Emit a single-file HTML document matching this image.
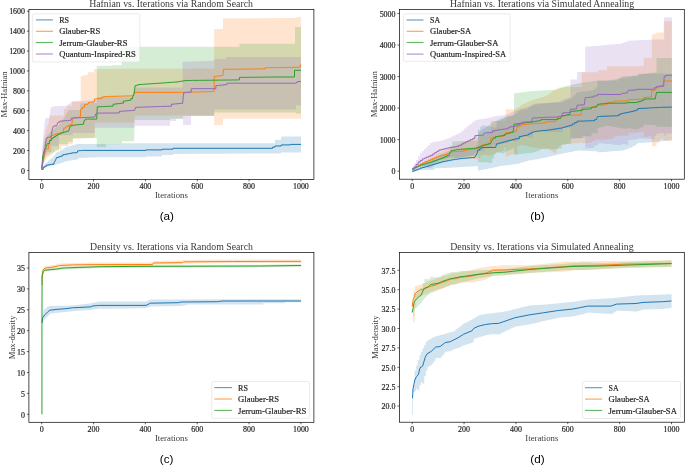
<!DOCTYPE html>
<html><head><meta charset="utf-8"><style>
html,body{margin:0;padding:0;background:#fff;}
body{width:685px;height:466px;overflow:hidden;}
svg{display:block;}
text{fill:#3a3a3a;}
svg text{filter:grayscale(1);}
</style></head><body>
<svg width="685" height="466" viewBox="0 0 685 466">
<polygon points="41.7,169 43,166.5 46,163 50,159.5 54.5,155.5 56.6,152.5 62.8,149.5 65.9,147 72,145.4 77.2,144 122,144 122,143.3 275,143.2 275,139.8 281.3,139.8 281.3,136.5 301,136.5 301,152.4 281,152.4 281,153.5 173,153.9 173,155 162,155 162,156.5 146,156.5 146,157.2 100,157.2 79.2,158 77.2,159.6 66.9,161.1 60.7,163.2 53.5,165.2 46.3,167 41.7,170" fill="#1f77b4" fill-opacity="0.2"/>
<polygon points="41.7,170 42.5,150 44,138 46,130 48.9,122 49.4,115.5 63.8,115.5 63.8,108.8 66.9,108.8 66.9,105.7 72,105.7 72,101.6 80.7,101.6 80.7,75.9 83.4,75.9 83.4,74.9 87.7,74.9 87.7,72.2 94.1,72.2 94.1,69 214.2,68.5 214.2,29 223,29 223,18.6 295,18 298,17 301,17 301,118.7 223,118.7 223,124.9 214.2,124.9 214.2,115.4 134.6,115.4 134.6,122.6 94.7,122.6 94.7,137.5 72.8,138.8 72.8,144.2 68,144.2 68,146 61.4,146 61.4,149.6 54.8,149.6 54.8,152 51.2,155 47,158 44,163 41.7,170" fill="#ff7f0e" fill-opacity="0.2"/>
<polygon points="41.7,170 42.5,152 44,143 46,137 49.4,133 55,128 60,124 64,118 66.9,113 69,110 80.3,110 80.3,103.5 96.8,103 96.8,65.7 111.3,65.7 111.3,65.2 121.5,65.2 121.5,46.8 239.4,46.8 239.4,43.7 295,43.7 295,27 301,27 301,113.6 296,113.6 296,112.6 214.2,112.6 214.2,116 183,116 183,118.7 170,118.7 170,120 134.3,120 134.3,141.2 122,141.2 122,144.3 106,144.3 106,147.3 96.8,147.3 96.8,138 80,138.2 72.8,138.2 72.8,141.8 68,141.8 68,144.2 59,144.2 59,150 51.2,153 45.8,156 44,162 41.7,170" fill="#2ca02c" fill-opacity="0.2"/>
<polygon points="41.7,170 42.5,145 44,128 45.3,118 49.4,118 50.9,107.3 54,106.2 66.9,105.7 72,101.6 96.8,100 96.8,97 134.4,97 134.4,87.5 182.6,87.5 182.6,62.1 191,61.5 214.2,60.7 214.2,59 226,59 226,57 301,57 301,105.4 296,105.4 296,109.5 214.2,109.5 214.2,115.7 191,115.7 191,124.9 183,124.9 183,118.7 176,118.7 176,121 170,121 170,125.8 134.6,125.8 134.6,127.7 94.7,127.7 94.7,133 72.8,133 72.8,135.2 59,135.2 59,146 51.2,146 51.2,152 45.8,152 44,160 41.7,170" fill="#9467bd" fill-opacity="0.2"/>
<polyline points="41.7,169.4 43.2,169.4 43.2,167.3 44.75,167.3 44.75,166.25 46.3,166.25 46.3,165.2 48,165.2 48,164.87 49.7,164.87 49.7,164.53 51.4,164.53 51.4,164.2 54,164.2 54,162.7 55.6,160.1 56.6,157.5 58.65,157.5 58.65,156.75 60.7,156.75 60.7,156 62.8,156 62.8,154.7 64.85,154.7 64.85,154.3 66.9,154.3 66.9,153.9 68.6,153.9 68.6,153.57 70.3,153.57 70.3,153.23 72,153.23 72,152.9 77.2,152.7 77.7,150.8 79.23,150.8 79.23,150.67 80.77,150.67 80.77,150.53 82.3,150.53 82.3,150.4 146,150.4 146,149.9 162,149.9 162,149.2 173,149.2 173,148.3 272.6,148.3 272.6,147.1 275,147.1 275,146 281.3,146 281.3,144.9 290.4,144.9 290.4,144.4 301,144.4" fill="none" stroke="#1f77b4" stroke-width="1.0" stroke-linejoin="miter"/>
<polyline points="41.7,169.4 43.2,160.1 45.3,151.9 46.3,148.8 48.4,148.8 48.4,146.2 49.4,142.6 51.4,137.4 51.4,135.4 52.95,135.4 52.95,134.9 54.5,134.9 54.5,134.4 56.23,134.4 56.23,134.03 57.97,134.03 57.97,133.67 59.7,133.67 59.7,133.3 61.5,133.3 61.5,132.55 63.3,132.55 63.3,131.8 63.8,128.2 65.35,128.2 65.35,127.15 66.9,127.15 66.9,126.1 68.45,126.1 68.45,125.35 70,125.35 70,124.6 72,124.6 72,123.2 72.5,118.6 73,117.6 80.3,117.3 80.8,108.8 82.3,108.8 82.3,107.3 84.4,107.3 84.4,104.7 85.95,104.7 85.95,104.3 87.5,104.3 87.5,103.9 88.5,103.9 88.5,102.4 90.4,102.4 90.4,102.2 92.3,102.2 92.3,102 94.2,102 94.2,101.8 94.7,99 96.77,99 96.77,98.77 98.83,98.77 98.83,98.53 100.9,98.53 100.9,98.3 101.9,98.3 101.9,97 103.95,97 103.95,96.75 106,96.75 106,96.5 107.84,96.5 107.84,96.45 109.68,96.45 109.68,96.41 111.52,96.41 111.52,96.36 113.36,96.36 113.36,96.31 115.2,96.31 115.2,96.27 117.04,96.27 117.04,96.22 118.88,96.22 118.88,96.17 120.72,96.17 120.72,96.13 122.56,96.13 122.56,96.08 124.4,96.08 124.4,96.03 126.24,96.03 126.24,95.99 128.08,95.99 128.08,95.94 129.92,95.94 129.92,95.89 131.76,95.89 131.76,95.85 133.6,95.85 133.6,95.8 134.1,92.4 176,92.4 177.79,92.4 177.79,92.36 179.57,92.36 179.57,92.33 181.36,92.33 181.36,92.29 183.15,92.29 183.15,92.25 184.94,92.25 184.94,92.21 186.72,92.21 186.72,92.17 188.51,92.17 188.51,92.14 190.3,92.14 190.3,92.1 192.09,92.1 192.09,92.06 193.88,92.06 193.88,92.03 195.66,92.03 195.66,91.99 197.45,91.99 197.45,91.95 199.24,91.95 199.24,91.91 201.03,91.91 201.03,91.88 202.81,91.88 202.81,91.84 204.6,91.84 204.6,91.8 206.52,91.8 206.52,91.7 208.44,91.7 208.44,91.6 210.36,91.6 210.36,91.5 212.28,91.5 212.28,91.4 214.2,91.4 214.2,91.3 214.2,76.4 215.96,76.4 215.96,76.2 217.72,76.2 217.72,76 219.48,76 219.48,75.8 221.24,75.8 221.24,75.6 223,75.6 223,75.4 223.4,69.3 225.24,69.3 225.24,69.28 227.08,69.28 227.08,69.26 228.92,69.26 228.92,69.25 230.76,69.25 230.76,69.23 232.6,69.23 232.6,69.21 234.45,69.21 234.45,69.19 236.29,69.19 236.29,69.17 238.13,69.17 238.13,69.15 239.97,69.15 239.97,69.14 241.81,69.14 241.81,69.12 243.65,69.12 243.65,69.1 245.49,69.1 245.49,69.08 247.33,69.08 247.33,69.06 249.17,69.06 249.17,69.05 251.01,69.05 251.01,69.03 252.85,69.03 252.85,69.01 254.7,69.01 254.7,68.99 256.54,68.99 256.54,68.97 258.38,68.97 258.38,68.95 260.22,68.95 260.22,68.94 262.06,68.94 262.06,68.92 263.9,68.92 263.9,68.9 264.9,68.9 264.9,67.8 266.67,67.8 266.67,67.77 268.45,67.77 268.45,67.74 270.22,67.74 270.22,67.71 271.99,67.71 271.99,67.67 273.77,67.67 273.77,67.64 275.54,67.64 275.54,67.61 277.32,67.61 277.32,67.58 279.09,67.58 279.09,67.55 280.86,67.55 280.86,67.52 282.64,67.52 282.64,67.48 284.41,67.48 284.41,67.45 286.18,67.45 286.18,67.42 287.96,67.42 287.96,67.39 289.73,67.39 289.73,67.36 291.51,67.36 291.51,67.33 293.28,67.33 293.28,67.29 295.05,67.29 295.05,67.26 296.83,67.26 296.83,67.23 298.6,67.23 298.6,67.2 300.3,67.2 300.3,65.2 301,65.2 301,64.8" fill="none" stroke="#ff7f0e" stroke-width="1.0" stroke-linejoin="miter"/>
<polyline points="41.7,169.4 42.7,157 44.2,150.8 46.3,146.7 47.3,143.6 49.4,143.6 49.4,140.5 51.4,140.5 51.4,138.5 52.95,138.5 52.95,137.45 54.5,137.45 54.5,136.4 56.05,136.4 56.05,135.4 57.6,135.4 57.6,134.4 59.7,134.4 59.7,133.3 61.4,133.3 61.4,132.8 63.1,132.8 63.1,132.3 64.8,132.3 64.8,131.8 66.85,131.8 66.85,131 68.9,131 68.9,130.2 70,126.1 71.55,126.1 71.55,125.6 73.1,125.6 73.1,125.1 74.82,125.1 74.82,124.93 76.53,124.93 76.53,124.77 78.25,124.77 78.25,124.6 79.97,124.6 79.97,124.43 81.68,124.43 81.68,124.27 83.4,124.27 83.4,124.1 84.4,120.1 85.4,120.1 85.4,119.1 96.7,119.1 97.3,106.8 99.02,106.8 99.02,106.72 100.75,106.72 100.75,106.65 102.47,106.65 102.47,106.58 104.2,106.58 104.2,106.5 105.92,106.5 105.92,106.42 107.65,106.42 107.65,106.35 109.38,106.35 109.38,106.28 111.1,106.28 111.1,106.2 113.1,106.2 113.1,104.2 114.74,104.2 114.74,104 116.38,104 116.38,103.8 118.02,103.8 118.02,103.6 119.66,103.6 119.66,103.4 121.3,103.4 121.3,103.2 123.4,103.2 123.4,101.1 125.43,101.1 125.43,100.77 127.47,100.77 127.47,100.43 129.5,100.43 129.5,100.1 131.05,100.1 131.05,98.55 132.6,98.55 132.6,97 134.1,93.8 135.1,85.6 136.65,85.6 136.65,85.1 138.2,85.1 138.2,84.6 140.05,84.6 140.05,84.47 141.91,84.47 141.91,84.35 143.76,84.35 143.76,84.22 145.62,84.22 145.62,84.09 147.47,84.09 147.47,83.96 149.33,83.96 149.33,83.84 151.18,83.84 151.18,83.71 153.04,83.71 153.04,83.58 154.89,83.58 154.89,83.45 156.75,83.45 156.75,83.33 158.6,83.33 158.6,83.2 160.34,83.2 160.34,83.08 162.08,83.08 162.08,82.96 163.82,82.96 163.82,82.84 165.56,82.84 165.56,82.72 167.3,82.72 167.3,82.6 169.04,82.6 169.04,82.48 170.78,82.48 170.78,82.36 172.52,82.36 172.52,82.24 174.26,82.24 174.26,82.12 176,82.12 176,82 177.84,82 177.84,81.7 179.68,81.7 179.68,81.4 181.52,81.4 181.52,81.1 183.36,81.1 183.36,80.8 185.2,80.8 185.2,80.5 187.01,80.5 187.01,80.48 188.81,80.48 188.81,80.46 190.62,80.46 190.62,80.44 192.43,80.44 192.43,80.42 194.23,80.42 194.23,80.4 196.04,80.4 196.04,80.38 197.85,80.38 197.85,80.36 199.65,80.36 199.65,80.34 201.46,80.34 201.46,80.32 203.27,80.32 203.27,80.3 205.07,80.3 205.07,80.28 206.88,80.28 206.88,80.26 208.69,80.26 208.69,80.24 210.49,80.24 210.49,80.22 212.3,80.22 212.3,80.2 214.11,80.2 214.11,80.18 215.91,80.18 215.91,80.16 217.72,80.16 217.72,80.14 219.53,80.14 219.53,80.12 221.33,80.12 221.33,80.1 223.14,80.1 223.14,80.08 224.95,80.08 224.95,80.06 226.75,80.06 226.75,80.04 228.56,80.04 228.56,80.02 230.37,80.02 230.37,80 232.17,80 232.17,79.98 233.98,79.98 233.98,79.96 235.79,79.96 235.79,79.94 237.59,79.94 237.59,79.92 239.4,79.92 239.4,79.9 239.4,77.4 241.23,77.4 241.23,77.38 243.05,77.38 243.05,77.36 244.88,77.36 244.88,77.34 246.71,77.34 246.71,77.32 248.53,77.32 248.53,77.29 250.36,77.29 250.36,77.27 252.18,77.27 252.18,77.25 254.01,77.25 254.01,77.23 255.84,77.23 255.84,77.21 257.66,77.21 257.66,77.19 259.49,77.19 259.49,77.17 261.32,77.17 261.32,77.15 263.14,77.15 263.14,77.13 264.97,77.13 264.97,77.11 266.79,77.11 266.79,77.08 268.62,77.08 268.62,77.06 270.45,77.06 270.45,77.04 272.27,77.04 272.27,77.02 274.1,77.02 274.1,77 294.5,77 294.5,70.3 301,70.3" fill="none" stroke="#2ca02c" stroke-width="1.0" stroke-linejoin="miter"/>
<polyline points="41.7,169.4 43.2,158 45.3,146.7 46.3,138.5 47.3,138.5 47.3,137.4 49.4,137.4 49.4,136.9 51.4,136.9 51.4,134.4 52.5,128.2 53.5,126.1 55.05,126.1 55.05,125.85 56.6,125.85 56.6,125.6 58.1,122.2 59.7,122.2 59.7,121.2 61.58,121.2 61.58,121.02 63.47,121.02 63.47,120.83 65.35,120.83 65.35,120.65 67.23,120.65 67.23,120.47 69.12,120.47 69.12,120.28 71,120.28 71,120.1 71.5,118.1 73.28,118.1 73.28,118.02 75.07,118.02 75.07,117.93 76.85,117.93 76.85,117.85 78.64,117.85 78.64,117.76 80.42,117.76 80.42,117.68 82.21,117.68 82.21,117.59 83.99,117.59 83.99,117.51 85.78,117.51 85.78,117.42 87.56,117.42 87.56,117.34 89.35,117.34 89.35,117.25 91.13,117.25 91.13,117.17 92.92,117.17 92.92,117.08 94.7,117.08 94.7,117 95.7,114 96.7,114 96.7,113.1 117.2,113 119.3,113 119.3,111.3 121.21,111.3 121.21,111.17 123.12,111.17 123.12,111.05 125.04,111.05 125.04,110.92 126.95,110.92 126.95,110.8 128.86,110.8 128.86,110.67 130.78,110.67 130.78,110.55 132.69,110.55 132.69,110.42 134.6,110.42 134.6,110.3 135.6,107.3 137.37,107.3 137.37,107.24 139.15,107.24 139.15,107.18 140.92,107.18 140.92,107.13 142.69,107.13 142.69,107.07 144.47,107.07 144.47,107.01 146.24,107.01 146.24,106.95 148.02,106.95 148.02,106.89 149.79,106.89 149.79,106.84 151.56,106.84 151.56,106.78 153.34,106.78 153.34,106.72 155.11,106.72 155.11,106.66 156.88,106.66 156.88,106.61 158.66,106.61 158.66,106.55 160.43,106.55 160.43,106.49 162.21,106.49 162.21,106.43 163.98,106.43 163.98,106.37 165.75,106.37 165.75,106.32 167.53,106.32 167.53,106.26 169.3,106.26 169.3,106.2 171.4,106.2 171.4,104.2 173.27,104.2 173.27,104.03 175.13,104.03 175.13,103.87 177,103.87 177,103.7 178.87,103.7 178.87,103.53 180.73,103.53 180.73,103.37 182.6,103.37 182.6,103.2 183.6,92.8 185.53,92.8 185.53,92.55 187.45,92.55 187.45,92.3 189.38,92.3 189.38,92.05 191.3,92.05 191.3,91.8 191.3,88.7 215.9,88.7 215.9,85.6 217.6,85.6 217.6,85.43 219.3,85.43 219.3,85.27 221,85.27 221,85.1 222.7,85.1 222.7,84.93 224.4,84.93 224.4,84.77 226.1,84.77 226.1,84.6 227.1,84.6 227.1,83.2 294.5,83.2 296.05,83.2 296.05,82.35 297.6,82.35 297.6,81.5 301,81.5" fill="none" stroke="#9467bd" stroke-width="1.0" stroke-linejoin="miter"/>
<polygon points="412.1,171.99 414.1,171.99 414.1,171.43 416.1,171.43 416.1,170.87 418.1,170.87 418.1,170.31 420.1,170.31 420.1,169.9 422.1,169.9 422.1,169.9 424.1,169.9 424.1,169.9 426.1,169.9 426.1,169.9 428.1,169.9 428.1,169.9 430.1,169.9 430.1,169.9 432.1,169.9 432.1,169.9 434.1,169.9 434.1,168.48 436.1,168.48 436.1,168.31 438.1,168.31 438.1,168.21 440.1,168.21 440.1,168.12 442.1,168.12 442.1,168.02 444.1,168.02 444.1,167.92 446.1,167.92 446.1,167.83 448.1,167.83 448.1,167.73 450.1,167.73 450.1,167.63 452.1,167.63 452.1,167.52 454.1,167.52 454.1,167.41 456.1,167.41 456.1,167.3 458.1,167.3 458.1,167.19 460.1,167.19 460.1,167.08 462.1,167.08 462.1,166.97 464.1,166.97 464.1,166.86 466.1,166.86 466.1,166.75 468.1,166.75 468.1,166.65 470.1,166.65 470.1,166.54 472.1,166.54 472.1,166.43 474.1,166.43 474.1,166.33 476.1,166.33 476.1,166.22 477.9,166.22 477.9,170.48 480.1,170.48 480.1,170.07 482.1,170.07 482.1,169.69 484.1,169.69 484.1,169.31 486.1,169.31 486.1,168.93 488.1,168.93 488.1,168.55 490.1,168.55 490.1,168.17 492.1,168.17 492.1,167.79 494.1,167.79 494.1,167.31 496.6,167.31 496.6,166.66 498.1,166.66 498.1,166.27 500.1,166.27 500.1,166.02 502.1,166.02 502.1,165.81 504.1,165.81 504.1,165.59 506.1,165.59 506.1,165.34 508.1,165.34 508.1,165.05 510.1,165.05 510.1,164.76 512.1,164.76 512.1,164.47 514.1,164.47 514.1,164.18 516.1,164.18 516.1,163.89 518.1,163.89 518.1,163.48 520.1,163.48 520.1,162.87 522.1,162.87 522.1,162.27 524.1,162.27 524.1,161.66 526.1,161.66 526.1,161.05 528.1,161.05 528.1,160.51 530.1,160.51 530.1,160.17 532.1,160.17 532.1,159.82 534.1,159.82 534.1,159.48 536.1,159.48 536.1,159.13 538.1,159.13 538.1,158.79 540.1,158.79 540.1,158.44 542.1,158.44 542.1,158.1 544.1,158.1 544.1,157.75 546.1,157.75 546.1,157.32 548.1,157.32 548.1,156.81 550.1,156.81 550.1,156.31 552.1,156.31 552.1,155.81 554.1,155.81 554.1,155.3 556.1,155.3 556.1,154.8 558.1,154.8 558.1,154.33 560.1,154.33 560.1,153.92 562.1,153.92 562.1,153.51 564.1,153.51 564.1,153.1 566.1,153.1 566.1,152.68 568.1,152.68 568.1,152.28 570.1,152.28 570.1,151.89 572.1,151.89 572.1,151.49 574.1,151.49 574.1,151.1 576.1,151.1 576.1,150.71 578.1,150.71 578.1,150.42 580.1,150.42 580.1,150.53 582.1,150.53 582.1,150.64 584.1,150.64 584.1,150.75 586.1,150.75 586.1,150.86 588.1,150.86 588.1,150.97 590.1,150.97 590.1,151.08 592.1,151.08 592.1,151.18 594.1,151.18 594.1,151.29 596.1,151.29 596.1,151.41 597.6,151.41 597.6,152.16 600.1,152.16 600.1,152.24 602.1,152.24 602.1,152.07 604.1,152.07 604.1,151.91 606.1,151.91 606.1,151.75 608.1,151.75 608.1,151.59 610.1,151.59 610.1,151.42 612.1,151.42 612.1,151.26 614.1,151.26 614.1,151.1 616.1,151.1 616.1,150.93 618.1,150.93 618.1,150.77 620.1,150.77 620.1,150.61 622.1,150.61 622.1,150.45 624.1,150.45 624.1,149.83 626.1,149.83 626.1,149.03 628.1,149.03 628.1,148.22 630.1,148.22 630.1,147.42 632.1,147.42 632.1,146.61 634.1,146.61 634.1,145.38 636.1,145.38 636.1,143.87 638.1,143.87 638.1,143.12 640.1,143.12 640.1,142.98 642.1,142.98 642.1,142.84 644.1,142.84 644.1,142.7 646.1,142.7 646.1,142.56 648.1,142.56 648.1,142.42 650.1,142.42 650.1,142.28 652.1,142.28 652.1,142.1 654.1,142.1 654.1,141.85 656.1,141.85 656.1,141.6 658.1,141.6 658.1,141.36 660.1,141.36 660.1,141.14 662.1,141.14 662.1,140.98 664.1,140.98 664.1,140.82 666.1,140.82 666.1,140.66 668.1,140.66 668.1,140.5 670.1,140.5 670.1,140.34 671.9,140.34 671.9,140.2 671.9,74 671.9,73.92 670.1,73.92 670.1,73.83 668.1,73.83 668.1,73.74 666.1,73.74 666.1,73.65 664.1,73.65 664.1,73.56 662.1,73.56 662.1,73.51 660.1,73.51 660.1,73.51 658.1,73.51 658.1,73.48 656.1,73.48 656.1,73.44 654.1,73.44 654.1,73.41 652.1,73.41 652.1,73.55 650.1,73.55 650.1,73.78 648.1,73.78 648.1,73.8 646.1,73.8 646.1,73.81 644.1,73.81 644.1,73.83 642.1,73.83 642.1,73.85 640.1,73.85 640.1,73.86 638.1,73.86 638.1,75.8 636.1,75.8 636.1,75.74 634.1,75.74 634.1,75.76 632.1,75.76 632.1,76.05 630.1,76.05 630.1,76.03 628.1,76.03 628.1,76.01 626.1,76.01 626.1,75.99 624.1,75.99 624.1,76.16 622.1,76.16 622.1,77.08 620.1,77.08 620.1,78.97 618.1,78.97 618.1,80.5 616.1,80.5 616.1,80.5 614.1,80.5 614.1,80.51 612.1,80.51 612.1,80.52 610.1,80.52 610.1,80.52 608.1,80.52 608.1,80.53 606.1,80.53 606.1,80.54 604.1,80.54 604.1,80.54 602.1,80.54 602.1,80.55 600.1,80.55 600.1,80.84 597.6,80.84 597.6,87.01 596.1,87.01 596.1,88.77 594.1,88.77 594.1,90.24 592.1,90.24 592.1,90.48 590.1,90.48 590.1,90.72 588.1,90.72 588.1,90.96 586.1,90.96 586.1,91.2 584.1,91.2 584.1,91.43 582.1,91.43 582.1,91.67 580.1,91.67 580.1,91.91 578.1,91.91 578.1,92.81 576.1,92.81 576.1,94.69 574.1,94.69 574.1,96.58 572.1,96.58 572.1,98.46 570.1,98.46 570.1,99.36 568.1,99.36 568.1,100.11 566.1,100.11 566.1,100.86 564.1,100.86 564.1,101.61 562.1,101.61 562.1,102.23 560.1,102.23 560.1,102.43 558.1,102.43 558.1,102.58 556.1,102.58 556.1,102.69 554.1,102.69 554.1,102.8 552.1,102.8 552.1,102.92 550.1,102.92 550.1,103.03 548.1,103.03 548.1,103.14 546.1,103.14 546.1,103.19 544.1,103.19 544.1,103.17 542.1,103.17 542.1,103.15 540.1,103.15 540.1,103.23 538.1,103.23 538.1,103.53 536.1,103.53 536.1,103.83 534.1,103.83 534.1,104.47 532.1,104.47 532.1,106.16 530.1,106.16 530.1,107.84 528.1,107.84 528.1,109.11 526.1,109.11 526.1,109.33 524.1,109.33 524.1,109.56 522.1,109.56 522.1,109.78 520.1,109.78 520.1,111.12 518.1,111.12 518.1,113.35 516.1,113.35 516.1,114.07 514.1,114.07 514.1,114.79 512.1,114.79 512.1,115.51 510.1,115.51 510.1,116.23 508.1,116.23 508.1,116.95 506.1,116.95 506.1,117.8 504.1,117.8 504.1,118.71 502.1,118.71 502.1,119.61 500.1,119.61 500.1,120.48 498.1,120.48 498.1,120.93 496.6,120.93 496.6,127.56 494.1,127.56 494.1,127.13 492.1,127.13 492.1,126.8 490.1,126.8 490.1,126.47 488.1,126.47 488.1,126.14 486.1,126.14 486.1,125.82 484.1,125.82 484.1,125.49 482.1,125.49 482.1,126.77 480.1,126.77 480.1,129.69 477.9,129.69 477.9,145.45 476.1,145.45 476.1,148.4 474.1,148.4 474.1,148.62 472.1,148.62 472.1,148.84 470.1,148.84 470.1,149.07 468.1,149.07 468.1,149.29 466.1,149.29 466.1,149.51 464.1,149.51 464.1,149.73 462.1,149.73 462.1,150.12 460.1,150.12 460.1,150.6 458.1,150.6 458.1,151.07 456.1,151.07 456.1,151.54 454.1,151.54 454.1,152.01 452.1,152.01 452.1,152.61 450.1,152.61 450.1,153.32 448.1,153.32 448.1,154.04 446.1,154.04 446.1,154.76 444.1,154.76 444.1,155.48 442.1,155.48 442.1,156.35 440.1,156.35 440.1,157.46 438.1,157.46 438.1,158.57 436.1,158.57 436.1,159.6 434.1,159.6 434.1,159.39 432.1,159.39 432.1,160.58 430.1,160.58 430.1,161.74 428.1,161.74 428.1,162.91 426.1,162.91 426.1,164.07 424.1,164.07 424.1,165.24 422.1,165.24 422.1,166.44 420.1,166.44 420.1,167.53 418.1,167.53 418.1,168.49 416.1,168.49 416.1,169.44 414.1,169.44 414.1,170.39 412.1,170.39" fill="#1f77b4" fill-opacity="0.2"/>
<polygon points="412.1,169.18 414.1,169.18 414.1,167.61 416.1,167.61 416.1,166.05 418.1,166.05 418.1,164.48 420.1,164.48 420.1,162.92 422.1,162.92 422.1,161.62 424.1,161.62 424.1,160.32 426.1,160.32 426.1,159.02 428.1,159.02 428.1,157.72 430.1,157.72 430.1,156.44 432.1,156.44 432.1,155.44 434.1,155.44 434.1,154.44 436.1,154.44 436.1,153.44 438.1,153.44 438.1,152.44 440.1,152.44 440.1,151.45 442.1,151.45 442.1,150.55 444.1,150.55 444.1,149.65 446.1,149.65 446.1,148.75 448.1,148.75 448.1,147.85 450.1,147.85 450.1,146.96 452.1,146.96 452.1,146.26 454.1,146.26 454.1,145.56 456.1,145.56 456.1,144.86 458.1,144.86 458.1,144.16 460.1,144.16 460.1,143.46 462.1,143.46 462.1,142.76 464.1,142.76 464.1,142.06 466.1,142.06 466.1,141.36 468.1,141.36 468.1,140.66 470.1,140.66 470.1,139.95 472.1,139.95 472.1,139.15 474.1,139.15 474.1,138.35 476.1,138.35 476.1,137.55 478.1,137.55 478.1,136.75 480.1,136.75 480.1,135.95 482.1,135.95 482.1,135.04 484.1,135.04 484.1,134.13 486.1,134.13 486.1,133.22 488.1,133.22 488.1,132.31 490.1,132.31 490.1,131.4 491,131.4 491,120.9 492.1,120.9 492.1,120.9 494.1,120.9 494.1,120.9 496.1,120.9 496.1,120.9 498.1,120.9 498.1,120.9 500.1,120.9 500.1,120.9 502.1,120.9 502.1,120.9 504.1,120.9 504.1,120.9 505.8,120.9 505.8,109.2 508.1,109.2 508.1,109.2 510.1,109.2 510.1,109.2 512.1,109.2 512.1,109.2 514.1,109.2 514.1,109.2 516.1,109.2 516.1,108.08 517.2,108.08 517.2,107.31 518.1,107.31 518.1,106.69 520.1,106.69 520.1,105.3 522.1,105.3 522.1,103.95 524.1,103.95 524.1,103.15 526.1,103.15 526.1,102.35 528.1,102.35 528.1,101.55 530.1,101.55 530.1,100.75 532.1,100.75 532.1,99.96 534.1,99.96 534.1,99.35 536.1,99.35 536.1,98.73 538.1,98.73 538.1,98.12 540.1,98.12 540.1,97.5 542.1,97.5 542.1,96.89 544.1,96.89 544.1,96.27 546.1,96.27 546.1,95.25 548.1,95.25 548.1,93.9 550.1,93.9 550.1,92.56 552.1,92.56 552.1,91.22 554.1,91.22 554.1,89.87 556.5,89.87 556.5,88.26 558.1,88.26 558.1,87.38 560.1,87.38 560.1,87.27 562.1,87.27 562.1,87.16 564.1,87.16 564.1,87.05 566.1,87.05 566.1,87 568.1,87 568.1,87 570.1,87 570.1,87 572.1,87 572.1,87 574.1,87 574.1,87 576.1,87 576.1,87 578.1,87 578.1,87 580.1,87 580.1,87 581.7,87 581.7,72.3 584.1,72.3 584.1,72.3 586.1,72.3 586.1,72.3 588.1,72.3 588.1,72.3 590.1,72.3 590.1,72.3 592.1,72.3 592.1,72.3 594.1,72.3 594.1,72.3 596.1,72.3 596.1,72.3 598.1,72.3 598.1,70.3 600.1,70.3 600.1,70.3 602.1,70.3 602.1,70.3 604.1,70.3 604.1,70.3 606.1,70.3 606.1,70.3 607.1,70.3 607.1,66.2 608.1,66.2 608.1,66.2 610.1,66.2 610.1,66.2 612.1,66.2 612.1,66.2 614.1,66.2 614.1,66.2 616.1,66.2 616.1,66.2 618.1,66.2 618.1,66.2 620.1,66.2 620.1,66.2 622.1,66.2 622.1,66.2 624.1,66.2 624.1,66.2 626.1,66.2 626.1,66.2 628.1,66.2 628.1,66.2 628.7,66.2 628.7,66.2 630.1,66.2 630.1,66.2 632.1,66.2 632.1,66.2 634.1,66.2 634.1,66.2 636.1,66.2 636.1,66.2 638.1,66.2 638.1,66.2 640.1,66.2 640.1,66.2 642.1,66.2 642.1,66.2 643.6,66.2 643.6,58 646.1,58 646.1,58 648.1,58 648.1,58 650.1,58 650.1,58 651.8,58 651.8,34.49 654.1,34.49 654.1,33.49 656.5,33.49 656.5,32.5 658.1,32.5 658.1,32.5 660.1,32.5 660.1,32.5 662.1,32.5 662.1,32.5 663.7,32.5 663.7,21.2 666.1,21.2 666.1,21.2 668.1,21.2 668.1,21.2 670.1,21.2 670.1,21.2 671.9,21.2 671.9,21.2 671.9,140.8 671.9,140.8 670.1,140.8 670.1,140.8 668.1,140.8 668.1,140.8 666.1,140.8 666.1,140.8 663.7,140.8 663.7,138.68 662.1,138.68 662.1,138.9 660.1,138.9 660.1,142.45 658.1,142.45 658.1,142.89 656.5,142.89 656.5,146.62 654.1,146.62 654.1,146.1 651.8,146.1 651.8,136.2 650.1,136.2 650.1,136.45 648.1,136.45 648.1,136.69 646.1,136.69 646.1,137 643.6,137 643.6,132.1 642.1,132.1 642.1,132.23 640.1,132.23 640.1,132.37 638.1,132.37 638.1,132.5 636.1,132.5 636.1,132.64 634.1,132.64 634.1,132.77 632.1,132.77 632.1,132.9 630.1,132.9 630.1,133 628.7,133 628.7,135.62 628.1,135.62 628.1,135.67 626.1,135.67 626.1,135.73 624.1,135.73 624.1,135.78 622.1,135.78 622.1,135.84 620.1,135.84 620.1,135.89 618.1,135.89 618.1,135.95 616.1,135.95 616.1,136.33 614.1,136.33 614.1,138.21 612.1,138.21 612.1,138.61 610.1,138.61 610.1,139 608.1,139 608.1,139.2 607.1,139.2 607.1,139.2 606.1,139.2 606.1,139.41 604.1,139.41 604.1,139.62 602.1,139.62 602.1,139.83 600.1,139.83 600.1,140.05 598.1,140.05 598.1,138.96 596.1,138.96 596.1,140.13 594.1,140.13 594.1,141.3 592.1,141.3 592.1,142.33 590.1,142.33 590.1,142.56 588.1,142.56 588.1,142.79 586.1,142.79 586.1,143.02 584.1,143.02 584.1,143.3 581.7,143.3 581.7,142.22 580.1,142.22 580.1,143.07 578.1,143.07 578.1,143.22 576.1,143.22 576.1,143.37 574.1,143.37 574.1,143.52 572.1,143.52 572.1,143.67 570.1,143.67 570.1,143.82 568.1,143.82 568.1,143.97 566.1,143.97 566.1,144.39 564.1,144.39 564.1,144.83 562.1,144.83 562.1,145.28 560.1,145.28 560.1,146.42 558.1,146.42 558.1,148.9 556.5,148.9 556.5,153.53 554.1,153.53 554.1,152.18 552.1,152.18 552.1,150.84 550.1,150.84 550.1,149.5 548.1,149.5 548.1,148.3 546.1,148.3 546.1,149.32 544.1,149.32 544.1,149.1 542.1,149.1 542.1,148.87 540.1,148.87 540.1,148.48 538.1,148.48 538.1,148.08 536.1,148.08 536.1,147.68 534.1,147.68 534.1,147.28 532.1,147.28 532.1,146.75 530.1,146.75 530.1,146.38 528.1,146.38 528.1,146.01 526.1,146.01 526.1,145.64 524.1,145.64 524.1,145.27 522.1,145.27 522.1,145.31 520.1,145.31 520.1,145.97 518.1,145.97 518.1,146.27 517.2,146.27 517.2,153.99 516.1,153.99 516.1,153.35 514.1,153.35 514.1,154.01 512.1,154.01 512.1,154.84 510.1,154.84 510.1,155.68 508.1,155.68 508.1,156.72 505.8,156.72 505.8,147.59 504.1,147.59 504.1,150.62 502.1,150.62 502.1,151.55 500.1,151.55 500.1,152.08 498.1,152.08 498.1,152.61 496.1,152.61 496.1,153.14 494.1,153.14 494.1,154.4 492.1,154.4 492.1,155.28 491,155.28 491,155.32 490.1,155.32 490.1,155.14 488.1,155.14 488.1,154.96 486.1,154.96 486.1,154.77 484.1,154.77 484.1,154.67 482.1,154.67 482.1,156.29 480.1,156.29 480.1,158.02 478.1,158.02 478.1,159.41 476.1,159.41 476.1,159.28 474.1,159.28 474.1,158.96 472.1,158.96 472.1,158.64 470.1,158.64 470.1,158.42 468.1,158.42 468.1,158.62 466.1,158.62 466.1,158.97 464.1,158.97 464.1,159.32 462.1,159.32 462.1,159.08 460.1,159.08 460.1,158.57 458.1,158.57 458.1,158.06 456.1,158.06 456.1,157.56 454.1,157.56 454.1,157.05 452.1,157.05 452.1,157.45 450.1,157.45 450.1,158.44 448.1,158.44 448.1,159.41 446.1,159.41 446.1,159.85 444.1,159.85 444.1,159.64 442.1,159.64 442.1,159.72 440.1,159.72 440.1,160.19 438.1,160.19 438.1,160.73 436.1,160.73 436.1,161.41 434.1,161.41 434.1,162.09 432.1,162.09 432.1,162.75 430.1,162.75 430.1,163.08 428.1,163.08 428.1,163.4 426.1,163.4 426.1,163.93 424.1,163.93 424.1,164.59 422.1,164.59 422.1,165.31 420.1,165.31 420.1,166.29 418.1,166.29 418.1,167.26 416.1,167.26 416.1,168.22 414.1,168.22 414.1,169.19 412.1,169.19" fill="#ff7f0e" fill-opacity="0.2"/>
<polygon points="412.1,168.69 414.1,168.69 414.1,167.42 416.1,167.42 416.1,166.15 418.1,166.15 418.1,164.88 420.1,164.88 420.1,163.61 422.1,163.61 422.1,162.7 424.1,162.7 424.1,161.83 426.1,161.83 426.1,160.96 428.1,160.96 428.1,160.08 430.1,160.08 430.1,159.21 432.1,159.21 432.1,158.26 434.1,158.26 434.1,157.29 436.1,157.29 436.1,156.32 438.1,156.32 438.1,155.35 440.1,155.35 440.1,154.38 442.1,154.38 442.1,153.4 444.1,153.4 444.1,152.43 446.1,152.43 446.1,151.45 448.1,151.45 448.1,150.48 450.1,150.48 450.1,145.87 452.1,145.87 452.1,141.46 454.1,141.46 454.1,141.38 456.1,141.38 456.1,141.29 458.1,141.29 458.1,141.2 460.1,141.2 460.1,141.12 462.1,141.12 462.1,141.03 464.1,141.03 464.1,140.95 466.1,140.95 466.1,140.86 468.1,140.86 468.1,140.78 470.1,140.78 470.1,140.69 472.1,140.69 472.1,140.61 474.1,140.61 474.1,140.52 476.1,140.52 476.1,140.44 478.1,140.44 478.1,131.92 480.1,131.92 480.1,130.52 482.1,130.52 482.1,129.12 484.1,129.12 484.1,127.73 486.1,127.73 486.1,126.33 488.1,126.33 488.1,124.94 490.1,124.94 490.1,123.54 492.1,123.54 492.1,122.2 494.1,122.2 494.1,121.32 496.1,121.32 496.1,120.43 498.1,120.43 498.1,119.55 500.1,119.55 500.1,118.66 502.1,118.66 502.1,117.78 504.1,117.78 504.1,116.89 506.1,116.89 506.1,116.44 508.1,116.44 508.1,116.33 510.1,116.33 510.1,116.22 512.1,116.22 512.1,116.11 514.1,116.11 514.1,93.3 516.1,93.3 516.1,93.05 518.1,93.05 518.1,92.81 520.1,92.81 520.1,92.57 522.1,92.57 522.1,92.33 524.1,92.33 524.1,92.08 526.1,92.08 526.1,91.84 528.1,91.84 528.1,91.6 530.1,91.6 530.1,91.35 532.1,91.35 532.1,91.11 534.1,91.11 534.1,90.98 536.1,90.98 536.1,90.86 538.1,90.86 538.1,90.73 540.1,90.73 540.1,90.61 542.1,90.61 542.1,90.48 544.1,90.48 544.1,90.36 546.1,90.36 546.1,90.23 548.1,90.23 548.1,90.11 550.1,90.11 550.1,89.98 552.1,89.98 552.1,89.86 554.1,89.86 554.1,89.74 556.1,89.74 556.1,89.61 558.1,89.61 558.1,88.86 560.1,88.86 560.1,88.04 561.6,88.04 561.6,87.42 564.1,87.42 564.1,86.4 566.1,86.4 566.1,85.79 568.1,85.79 568.1,85.39 570.1,85.39 570.1,84.98 570.9,84.98 570.9,84.82 572.1,84.82 572.1,84.57 574.1,84.57 574.1,84.16 576.1,84.16 576.1,83.76 578.1,83.76 578.1,83.35 580.1,83.35 580.1,82.94 582.2,82.94 582.2,82.54 584.1,82.54 584.1,82.28 586.1,82.28 586.1,82.01 588.1,82.01 588.1,81.73 590.1,81.73 590.1,81.46 591.5,81.46 591.5,81.27 592.1,81.27 592.1,81.18 594.1,81.18 594.1,80.91 596.1,80.91 596.1,80.63 597.6,80.63 597.6,80.53 600.1,80.53 600.1,80.69 602.1,80.69 602.1,80.82 604.1,80.82 604.1,80.94 606.1,80.94 606.1,80.79 608.1,80.79 608.1,80.42 610.1,80.42 610.1,80.04 612.1,80.04 612.1,79.67 614.1,79.67 614.1,79.3 616.1,79.3 616.1,78.93 618.1,78.93 618.1,78.55 620.1,78.55 620.1,78.27 622.1,78.27 622.1,78 624.1,78 624.1,77.73 626.1,77.73 626.1,77.46 628.1,77.46 628.1,77.07 630.1,77.07 630.1,76.63 632.1,76.63 632.1,76.2 634.1,76.2 634.1,75.76 636.1,75.76 636.1,75.32 638.1,75.32 638.1,74.89 640.1,74.89 640.1,74.45 642.1,74.45 642.1,74.01 644.1,74.01 644.1,73.69 646.1,73.69 646.1,73.46 648.1,73.46 648.1,73.24 650.1,73.24 650.1,73.01 652.1,73.01 652.1,72.79 654.1,72.79 654.1,72.57 656.5,72.57 656.5,58 658.1,58 658.1,58 660.1,58 660.1,58 662.1,58 662.1,58 664.1,58 664.1,58 666.1,58 666.1,58 668.1,58 668.1,58 670.1,58 670.1,58 671.9,58 671.9,58 671.9,126.8 671.9,126.8 670.1,126.8 670.1,126.8 668.1,126.8 668.1,126.8 666.1,126.8 666.1,126.8 664.1,126.8 664.1,126.8 662.1,126.8 662.1,126.8 660.1,126.8 660.1,126.8 658.1,126.8 658.1,126.8 656.5,126.8 656.5,125.24 654.1,125.24 654.1,125.1 652.1,125.1 652.1,124.95 650.1,124.95 650.1,124.81 648.1,124.81 648.1,124.66 646.1,124.66 646.1,124.51 644.1,124.51 644.1,126.82 642.1,126.82 642.1,127.67 640.1,127.67 640.1,128.53 638.1,128.53 638.1,129.5 636.1,129.5 636.1,129.32 634.1,129.32 634.1,128.97 632.1,128.97 632.1,128.62 630.1,128.62 630.1,128.27 628.1,128.27 628.1,128.42 626.1,128.42 626.1,128.67 624.1,128.67 624.1,128.4 622.1,128.4 622.1,128.13 620.1,128.13 620.1,127.85 618.1,127.85 618.1,127.47 616.1,127.47 616.1,127.1 614.1,127.1 614.1,126.73 612.1,126.73 612.1,126.36 610.1,126.36 610.1,125.98 608.1,125.98 608.1,125.78 606.1,125.78 606.1,126.05 604.1,126.05 604.1,126.61 602.1,126.61 602.1,127.17 600.1,127.17 600.1,127.86 597.6,127.86 597.6,133.21 596.1,133.21 596.1,133.26 594.1,133.26 594.1,133.31 592.1,133.31 592.1,133.33 591.5,133.33 591.5,136.29 590.1,136.29 590.1,136.23 588.1,136.23 588.1,136.17 586.1,136.17 586.1,136.11 584.1,136.11 584.1,136.06 582.2,136.06 582.2,138.23 580.1,138.23 580.1,138.17 578.1,138.17 578.1,138.12 576.1,138.12 576.1,138.07 574.1,138.07 574.1,138.01 572.1,138.01 572.1,137.98 570.9,137.98 570.9,143.32 570.1,143.32 570.1,143.68 568.1,143.68 568.1,144.05 566.1,144.05 566.1,144.37 564.1,144.37 564.1,144.57 561.6,144.57 561.6,148.52 560.1,148.52 560.1,148.19 558.1,148.19 558.1,148.9 556.1,148.9 556.1,149.46 554.1,149.46 554.1,149.34 552.1,149.34 552.1,149.22 550.1,149.22 550.1,149.09 548.1,149.09 548.1,148.97 546.1,148.97 546.1,148.84 544.1,148.84 544.1,148.72 542.1,148.72 542.1,149.34 540.1,149.34 540.1,150.72 538.1,150.72 538.1,151.32 536.1,151.32 536.1,151.93 534.1,151.93 534.1,152.53 532.1,152.53 532.1,152.95 530.1,152.95 530.1,153.13 528.1,153.13 528.1,153.32 526.1,153.32 526.1,153.5 524.1,153.5 524.1,153.69 522.1,153.69 522.1,153.89 520.1,153.89 520.1,154.29 518.1,154.29 518.1,154.69 516.1,154.69 516.1,155.1 514.1,155.1 514.1,148.6 512.1,148.6 512.1,149.4 510.1,149.4 510.1,150.2 508.1,150.2 508.1,151 506.1,151 506.1,152.22 504.1,152.22 504.1,153.41 502.1,153.41 502.1,153.08 500.1,153.08 500.1,152.75 498.1,152.75 498.1,152.42 496.1,152.42 496.1,153.94 494.1,153.94 494.1,158.54 492.1,158.54 492.1,163.02 490.1,163.02 490.1,162.79 488.1,162.79 488.1,162.56 486.1,162.56 486.1,162.33 484.1,162.33 484.1,162.22 482.1,162.22 482.1,162.2 480.1,162.2 480.1,162.18 478.1,162.18 478.1,155.51 476.1,155.51 476.1,155.89 474.1,155.89 474.1,156.05 472.1,156.05 472.1,156.2 470.1,156.2 470.1,156.36 468.1,156.36 468.1,156.6 466.1,156.6 466.1,156.87 464.1,156.87 464.1,157.14 462.1,157.14 462.1,157.4 460.1,157.4 460.1,157.67 458.1,157.67 458.1,157.98 456.1,157.98 456.1,158.68 454.1,158.68 454.1,159.38 452.1,159.38 452.1,159.65 450.1,159.65 450.1,159.98 448.1,159.98 448.1,160.76 446.1,160.76 446.1,161.54 444.1,161.54 444.1,162.32 442.1,162.32 442.1,162.97 440.1,162.97 440.1,163.39 438.1,163.39 438.1,163.82 436.1,163.82 436.1,164.25 434.1,164.25 434.1,164.68 432.1,164.68 432.1,165.08 430.1,165.08 430.1,165.41 428.1,165.41 428.1,165.74 426.1,165.74 426.1,166.07 424.1,166.07 424.1,166.4 422.1,166.4 422.1,166.74 420.1,166.74 420.1,167.23 418.1,167.23 418.1,167.72 416.1,167.72 416.1,168.21 414.1,168.21 414.1,168.7 412.1,168.7" fill="#2ca02c" fill-opacity="0.2"/>
<polygon points="412.1,167.06 414.1,167.06 414.1,163.55 416.1,163.55 416.1,160.04 418.1,160.04 418.1,156.53 420.1,156.53 420.1,153.02 422.1,153.02 422.1,150.88 424.1,150.88 424.1,148.88 426.1,148.88 426.1,146.88 428.1,146.88 428.1,144.88 430.1,144.88 430.1,142.88 432.1,142.88 432.1,142.15 434.1,142.15 434.1,141.83 436.1,141.83 436.1,141.51 438.1,141.51 438.1,141.19 440.1,141.19 440.1,140.83 442.1,140.83 442.1,140.15 444.1,140.15 444.1,139.48 446.1,139.48 446.1,138.8 448.1,138.8 448.1,138.13 450.1,138.13 450.1,137.29 452.1,137.29 452.1,136.28 454.1,136.28 454.1,135.27 456.1,135.27 456.1,134.26 458.1,134.26 458.1,133.25 460.1,133.25 460.1,132.24 462.1,132.24 462.1,130.42 464.1,130.42 464.1,128.47 466.1,128.47 466.1,126.85 468.1,126.85 468.1,125.33 470.1,125.33 470.1,123.81 472.1,123.81 472.1,122.29 474.1,122.29 474.1,120.77 476.1,120.77 476.1,119.93 478.1,119.93 478.1,119.62 480.1,119.62 480.1,119.3 482.1,119.3 482.1,118.99 484.3,118.99 484.3,118.65 486.1,118.65 486.1,118.27 488.1,118.27 488.1,117.72 490.1,117.72 490.1,117.16 492.5,117.16 492.5,116.5 494.1,116.5 494.1,116.28 496.1,116.28 496.1,116.01 498.1,116.01 498.1,115.75 500.1,115.75 500.1,115.48 502.1,115.48 502.1,115.13 504.1,115.13 504.1,114.74 506.1,114.74 506.1,114.31 508.1,114.31 508.1,113.44 510.1,113.44 510.1,112.58 512.1,112.58 512.1,111.72 514.1,111.72 514.1,110.89 516.1,110.89 516.1,110.21 518.1,110.21 518.1,109.53 520.1,109.53 520.1,108.85 522.1,108.85 522.1,108.16 524.1,108.16 524.1,107.55 526.1,107.55 526.1,106.96 528.1,106.96 528.1,106.38 530.1,106.38 530.1,105.79 532.6,105.79 532.6,105.05 534.1,105.05 534.1,104.78 536.1,104.78 536.1,104.46 538.1,104.46 538.1,104.13 540.1,104.13 540.1,103.8 542.1,103.8 542.1,103.47 544.1,103.47 544.1,103.14 546.1,103.14 546.1,102.91 548.1,102.91 548.1,102.75 550.1,102.75 550.1,102.59 552.1,102.59 552.1,102.43 554.1,102.43 554.1,102.28 556.1,102.28 556.1,102.12 558.1,102.12 558.1,101.73 560.1,101.73 560.1,100.7 562.6,100.7 562.6,99.4 564.1,99.4 564.1,98.79 566.1,98.79 566.1,98.22 568.1,98.22 568.1,97.65 570.4,97.65 570.4,79.4 572.1,79.4 572.1,79.4 574.1,79.4 574.1,79.4 576.1,79.4 576.1,79.4 577.1,79.4 577.1,72.1 578.1,72.1 578.1,72.1 580.1,72.1 580.1,72.1 582.1,72.1 582.1,72.1 584.1,72.1 584.1,72.1 585.3,72.1 585.3,46.6 586.1,46.6 586.1,46.54 588.1,46.54 588.1,46.39 590.1,46.39 590.1,46.24 592.1,46.24 592.1,46.09 594.1,46.09 594.1,45.95 596.1,45.95 596.1,45.8 598.1,45.8 598.1,45.63 600.1,45.63 600.1,45.46 602.1,45.46 602.1,45.28 604.1,45.28 604.1,45.11 606.1,45.11 606.1,44.94 608.1,44.94 608.1,44.77 610.1,44.77 610.1,44.6 612.1,44.6 612.1,44.43 614.1,44.43 614.1,44.26 616.1,44.26 616.1,44.08 618.1,44.08 618.1,43.91 620.1,43.91 620.1,43.74 621.5,43.74 621.5,43.32 622.1,43.32 622.1,43.07 624.1,43.07 624.1,42.23 626.1,42.23 626.1,41.4 628.2,41.4 628.2,40.68 630.1,40.68 630.1,40.59 632.1,40.59 632.1,40.5 634.1,40.5 634.1,40.4 636.1,40.4 636.1,40.31 638.1,40.31 638.1,40.22 640.1,40.22 640.1,40.12 642.1,40.12 642.1,40.03 644.1,40.03 644.1,39.94 646.1,39.94 646.1,39.84 648.1,39.84 648.1,39.75 650.1,39.75 650.1,39.66 652.1,39.66 652.1,39.6 654.4,39.6 654.4,39.6 656.1,39.6 656.1,39.6 658.1,39.6 658.1,39.6 660.1,39.6 660.1,39.6 662.1,39.6 662.1,39.6 664.2,39.6 664.2,17.2 666.1,17.2 666.1,17.2 668.1,17.2 668.1,17.2 670.1,17.2 670.1,17.2 671.9,17.2 671.9,17.2 671.9,133.2 671.9,133.31 670.1,133.31 670.1,133.44 668.1,133.44 668.1,133.57 666.1,133.57 666.1,135.57 664.2,135.57 664.2,132.96 662.1,132.96 662.1,133.12 660.1,133.12 660.1,133.27 658.1,133.27 658.1,133.83 656.1,133.83 656.1,135.78 654.4,135.78 654.4,139 652.1,139 652.1,138.94 650.1,138.94 650.1,138.85 648.1,138.85 648.1,138.76 646.1,138.76 646.1,138.66 644.1,138.66 644.1,138.57 642.1,138.57 642.1,138.48 640.1,138.48 640.1,138.38 638.1,138.38 638.1,139.07 636.1,139.07 636.1,139.43 634.1,139.43 634.1,139.59 632.1,139.59 632.1,139.76 630.1,139.76 630.1,139.92 628.2,139.92 628.2,144.71 626.1,144.71 626.1,144.18 624.1,144.18 624.1,143.64 622.1,143.64 622.1,143.48 621.5,143.48 621.5,145.25 620.1,145.25 620.1,145.06 618.1,145.06 618.1,144.87 616.1,144.87 616.1,144.68 614.1,144.68 614.1,144.49 612.1,144.49 612.1,144.31 610.1,144.31 610.1,144.12 608.1,144.12 608.1,143.93 606.1,143.93 606.1,143.74 604.1,143.74 604.1,143.55 602.1,143.55 602.1,143.37 600.1,143.37 600.1,143.18 598.1,143.18 598.1,145.19 596.1,145.19 596.1,145.81 594.1,145.81 594.1,147.96 592.1,147.96 592.1,148.09 590.1,148.09 590.1,148.22 588.1,148.22 588.1,148.35 586.1,148.35 586.1,148.4 585.3,148.4 585.3,137.44 584.1,137.44 584.1,137.69 582.1,137.69 582.1,137.93 580.1,137.93 580.1,138.18 578.1,138.18 578.1,138.3 577.1,138.3 577.1,138.35 576.1,138.35 576.1,138.64 574.1,138.64 574.1,138.94 572.1,138.94 572.1,139.2 570.4,139.2 570.4,127.44 568.1,127.44 568.1,127.13 566.1,127.13 566.1,126.81 564.1,126.81 564.1,126.39 562.6,126.39 562.6,132.06 560.1,132.06 560.1,131.64 558.1,131.64 558.1,131.86 556.1,131.86 556.1,131.97 554.1,131.97 554.1,131.89 552.1,131.89 552.1,131.81 550.1,131.81 550.1,131.73 548.1,131.73 548.1,131.65 546.1,131.65 546.1,131.56 544.1,131.56 544.1,131.45 542.1,131.45 542.1,131.35 540.1,131.35 540.1,131.25 538.1,131.25 538.1,131.15 536.1,131.15 536.1,131.04 534.1,131.04 534.1,130.94 532.6,130.94 532.6,137.65 530.1,137.65 530.1,137.26 528.1,137.26 528.1,136.87 526.1,136.87 526.1,136.48 524.1,136.48 524.1,136.36 522.1,136.36 522.1,138 520.1,138 520.1,139.64 518.1,139.64 518.1,141.22 516.1,141.22 516.1,141.25 514.1,141.25 514.1,141.12 512.1,141.12 512.1,140.97 510.1,140.97 510.1,141.99 508.1,141.99 508.1,143.08 506.1,143.08 506.1,143.33 504.1,143.33 504.1,143.48 502.1,143.48 502.1,143.65 500.1,143.65 500.1,143.92 498.1,143.92 498.1,144.37 496.1,144.37 496.1,144.88 494.1,144.88 494.1,145.29 492.5,145.29 492.5,147.93 490.1,147.93 490.1,147.62 488.1,147.62 488.1,147.31 486.1,147.31 486.1,147.15 484.3,147.15 484.3,151.33 482.1,151.33 482.1,151.32 480.1,151.32 480.1,151.31 478.1,151.31 478.1,151.29 476.1,151.29 476.1,152.56 474.1,152.56 474.1,154.99 472.1,154.99 472.1,155.47 470.1,155.47 470.1,155.95 468.1,155.95 468.1,156.46 466.1,156.46 466.1,156.87 464.1,156.87 464.1,156.95 462.1,156.95 462.1,157.09 460.1,157.09 460.1,158 458.1,158 458.1,158.8 456.1,158.8 456.1,158.4 454.1,158.4 454.1,158 452.1,158 452.1,157.6 450.1,157.6 450.1,157.55 448.1,157.55 448.1,157.84 446.1,157.84 446.1,158.14 444.1,158.14 444.1,158.44 442.1,158.44 442.1,158.73 440.1,158.73 440.1,159.88 438.1,159.88 438.1,162.09 436.1,162.09 436.1,164.3 434.1,164.3 434.1,166.52 432.1,166.52 432.1,168.14 430.1,168.14 430.1,167.9 428.1,167.9 428.1,167.65 426.1,167.65 426.1,167.41 424.1,167.41 424.1,167.33 422.1,167.33 422.1,168.15 420.1,168.15 420.1,167.66 418.1,167.66 418.1,168.87 416.1,168.87 416.1,170.08 414.1,170.08 414.1,171.29 412.1,171.29" fill="#9467bd" fill-opacity="0.2"/>
<polyline points="412.1,171.2 414.15,171.2 414.15,170.42 416.2,170.42 416.2,169.65 418.25,169.65 418.25,168.88 420.3,168.88 420.3,168.1 422.36,168.1 422.36,167.5 424.42,167.5 424.42,166.9 426.48,166.9 426.48,166.3 428.54,166.3 428.54,165.7 430.6,165.7 430.6,165.1 432.66,165.1 432.66,164.48 434.72,164.48 434.72,163.86 436.78,163.86 436.78,163.24 438.84,163.24 438.84,162.62 440.9,162.62 440.9,162 442.96,162 442.96,161.58 445.02,161.58 445.02,161.16 447.08,161.16 447.08,160.74 449.14,160.74 449.14,160.32 451.2,160.32 451.2,159.9 453.26,159.9 453.26,159.6 455.32,159.6 455.32,159.3 457.38,159.3 457.38,159 459.44,159 459.44,158.7 461.5,158.7 461.5,158.4 463.73,158.4 463.73,158.22 465.97,158.22 465.97,158.03 468.2,158.03 468.2,157.85 470.43,157.85 470.43,157.67 472.67,157.67 472.67,157.48 474.9,157.48 474.9,157.3 476.9,153.7 477.9,150.1 479.55,150.1 479.55,148.85 481.2,148.85 481.2,147.6 495.6,147.4 496.6,143.8 498.93,143.8 498.93,143.15 501.25,143.15 501.25,142.5 503.57,142.5 503.57,141.85 505.9,141.85 505.9,141.2 507.96,141.2 507.96,140.68 510.02,140.68 510.02,140.16 512.08,140.16 512.08,139.64 514.14,139.64 514.14,139.12 516.2,139.12 516.2,138.6 519.3,138.6 519.3,136.5 521.7,136.5 521.7,136 524.1,136 524.1,135.5 526.5,135.5 526.5,135 528.53,135 528.53,133.97 530.57,133.97 530.57,132.93 532.6,132.93 532.6,131.9 534.67,131.9 534.67,131.57 536.73,131.57 536.73,131.23 538.8,131.23 538.8,130.9 540.87,130.9 540.87,130.73 542.93,130.73 542.93,130.57 545,130.57 545,130.4 547.23,130.4 547.23,130.06 549.46,130.06 549.46,129.71 551.69,129.71 551.69,129.37 553.91,129.37 553.91,129.03 556.14,129.03 556.14,128.69 558.37,128.69 558.37,128.34 560.6,128.34 560.6,128 562.92,128 562.92,127.33 565.25,127.33 565.25,126.65 567.58,126.65 567.58,125.97 569.9,125.97 569.9,125.3 572.3,125.3 572.3,123.93 574.7,123.93 574.7,122.57 577.1,122.57 577.1,121.2 579.3,121.2 579.3,121.13 581.5,121.13 581.5,121.06 583.7,121.06 583.7,120.99 585.9,120.99 585.9,120.91 588.1,120.91 588.1,120.84 590.3,120.84 590.3,120.77 592.5,120.77 592.5,120.7 594.55,120.7 594.55,119.65 596.6,119.65 596.6,118.6 597.6,116.5 599.7,116.5 599.7,116.41 601.8,116.41 601.8,116.32 603.9,116.32 603.9,116.23 606,116.23 606,116.14 608.1,116.14 608.1,116.06 610.2,116.06 610.2,115.97 612.3,115.97 612.3,115.88 614.4,115.88 614.4,115.79 616.5,115.79 616.5,115.7 618.55,115.7 618.55,114.65 620.6,114.65 620.6,113.6 622.64,113.6 622.64,113.2 624.68,113.2 624.68,112.8 626.72,112.8 626.72,112.4 628.76,112.4 628.76,112 630.8,112 630.8,111.6 633.35,111.6 633.35,110.8 635.9,110.8 635.9,110 637.9,110 637.9,108.5 639.96,108.5 639.96,108.42 642.02,108.42 642.02,108.34 644.08,108.34 644.08,108.26 646.14,108.26 646.14,108.18 648.2,108.18 648.2,108.1 651.3,107.8 653.62,107.8 653.62,107.67 655.95,107.67 655.95,107.55 658.27,107.55 658.27,107.42 660.6,107.42 660.6,107.3 671.9,107.1" fill="none" stroke="#1f77b4" stroke-width="1.0" stroke-linejoin="miter"/>
<polyline points="412.1,169.2 414.15,169.2 414.15,167.9 416.2,167.9 416.2,166.6 418.25,166.6 418.25,165.3 420.3,165.3 420.3,164 422.85,164 422.85,162.75 425.4,162.75 425.4,161.5 428,161.5 428,160.45 430.6,160.45 430.6,159.4 432.67,159.4 432.67,158.53 434.73,158.53 434.73,157.67 436.8,157.67 436.8,156.8 438.85,156.8 438.85,156.05 440.9,156.05 440.9,155.3 442.95,155.3 442.95,154.95 445,154.95 445,154.6 447.07,154.6 447.07,153.63 449.13,153.63 449.13,152.67 451.2,152.67 451.2,151.7 453.26,151.7 453.26,151.6 455.32,151.6 455.32,151.5 457.38,151.5 457.38,151.4 459.44,151.4 459.44,151.3 461.5,151.3 461.5,151.2 463.53,151.2 463.53,150.67 465.57,150.67 465.57,150.13 467.6,150.13 467.6,149.6 469.68,149.6 469.68,149.35 471.75,149.35 471.75,149.1 473.82,149.1 473.82,148.85 475.9,148.85 475.9,148.6 478.1,148.6 478.1,147.4 480.15,147.4 480.15,146.1 482.2,146.1 482.2,144.8 484.25,144.8 484.25,144.4 486.3,144.4 486.3,144 488.35,144 488.35,143.6 490.4,143.6 490.4,143.2 491,138.1 493.5,138.1 493.5,137.1 495.57,137.1 495.57,136.82 497.65,136.82 497.65,136.55 499.73,136.55 499.73,136.28 501.8,136.28 501.8,136 503.85,136 503.85,134.45 505.9,134.45 505.9,132.9 508.3,132.9 508.3,132.4 510.7,132.4 510.7,131.9 513.1,131.9 513.1,131.4 516.2,131.4 516.2,130.9 517.2,126.8 519.25,126.8 519.25,125.75 521.3,125.75 521.3,124.7 523.62,124.7 523.62,124.45 525.95,124.45 525.95,124.2 528.27,124.2 528.27,123.95 530.6,123.95 530.6,123.7 532.95,123.7 532.95,123.58 535.3,123.58 535.3,123.45 537.65,123.45 537.65,123.33 540,123.33 540,123.2 542.55,123.2 542.55,122.95 545.1,122.95 545.1,122.7 546.2,122.7 546.2,121.7 555.4,121.7 556.5,118.6 558.5,118.6 558.5,116.5 560.9,116.5 560.9,116.17 563.3,116.17 563.3,115.83 565.7,115.83 565.7,115.5 567.93,115.5 567.93,115.42 570.17,115.42 570.17,115.33 572.4,115.33 572.4,115.25 574.63,115.25 574.63,115.17 576.87,115.17 576.87,115.08 579.1,115.08 579.1,115 581.2,115 581.2,114 581.7,107.8 583.88,107.8 583.88,107.67 586.05,107.67 586.05,107.55 588.23,107.55 588.23,107.42 590.4,107.42 590.4,107.3 592.8,107.3 592.8,106.6 595.2,106.6 595.2,105.9 597.6,105.9 597.6,105.2 599.92,105.2 599.92,105.08 602.25,105.08 602.25,104.95 604.58,104.95 604.58,104.83 606.9,104.83 606.9,104.7 607.1,102.7 609.13,102.7 609.13,102.5 611.17,102.5 611.17,102.3 613.2,102.3 613.2,102.1 614.3,102.1 614.3,101.1 627.6,100.9 628.7,100.9 628.7,99.6 630.76,99.6 630.76,99.53 632.81,99.53 632.81,99.46 634.87,99.46 634.87,99.39 636.93,99.39 636.93,99.31 638.99,99.31 638.99,99.24 641.04,99.24 641.04,99.17 643.1,99.17 643.1,99.1 643.6,97.5 646.17,97.5 646.17,97.33 648.73,97.33 648.73,97.17 651.3,97.17 651.3,97 651.8,90.3 653.6,90.3 653.6,90.05 655.4,90.05 655.4,89.8 656.5,87.7 659.6,87.7 659.6,87.2 660.1,85.7 663.2,85.5 663.7,81 671.9,81" fill="none" stroke="#ff7f0e" stroke-width="1.0" stroke-linejoin="miter"/>
<polyline points="412.1,168.7 414.15,168.7 414.15,167.8 416.2,167.8 416.2,166.9 418.25,166.9 418.25,166 420.3,166 420.3,165.1 422.36,165.1 422.36,164.48 424.42,164.48 424.42,163.86 426.48,163.86 426.48,163.24 428.54,163.24 428.54,162.62 430.6,162.62 430.6,162 432.66,162 432.66,161.28 434.72,161.28 434.72,160.56 436.78,160.56 436.78,159.84 438.84,159.84 438.84,159.12 440.9,159.12 440.9,158.4 442.95,158.4 442.95,157.5 445,157.5 445,156.6 447.05,156.6 447.05,155.7 449.1,155.7 449.1,154.8 451.2,150.6 453.75,150.6 453.75,150.1 456.3,150.1 456.3,149.6 458.56,149.6 458.56,149.4 460.82,149.4 460.82,149.2 463.08,149.2 463.08,149 465.34,149 465.34,148.8 467.6,148.8 467.6,148.6 469.68,148.6 469.68,148.47 471.75,148.47 471.75,148.35 473.82,148.35 473.82,148.22 475.9,148.22 475.9,148.1 477.1,148.1 477.1,147.4 479.13,147.4 479.13,146.7 481.17,146.7 481.17,146 483.2,146 483.2,145.3 485.6,145.3 485.6,144.6 488,144.6 488,143.9 490.4,143.9 490.4,143.2 493.5,138.1 495.6,138.1 495.6,136.5 498,136.5 498,136.17 500.4,136.17 500.4,135.83 502.8,135.83 502.8,135.5 504.9,135.5 504.9,134 506.95,134 506.95,133.47 509,133.47 509,132.95 511.05,132.95 511.05,132.43 513.1,132.43 513.1,131.9 514.1,124.2 516.17,124.2 516.17,123.87 518.23,123.87 518.23,123.53 520.3,123.53 520.3,123.2 522.36,123.2 522.36,122.98 524.42,122.98 524.42,122.76 526.48,122.76 526.48,122.54 528.54,122.54 528.54,122.32 530.6,122.32 530.6,122.1 532.65,122.1 532.65,121.72 534.7,121.72 534.7,121.35 536.75,121.35 536.75,120.97 538.8,120.97 538.8,120.6 540.9,120.6 540.9,119.6 555.4,119.6 557.5,119.6 557.5,118.6 560.6,118.6 560.6,118.1 561.6,116 563.65,116 563.65,115.5 565.7,115.5 565.7,115 567.8,115 567.8,114.5 569.9,114.5 569.9,114 570.9,111.4 572.96,111.4 572.96,111.2 575.02,111.2 575.02,111 577.08,111 577.08,110.8 579.14,110.8 579.14,110.6 581.2,110.6 581.2,110.4 582.2,110.4 582.2,109.3 584.25,109.3 584.25,109.17 586.3,109.17 586.3,109.05 588.35,109.05 588.35,108.92 590.4,108.92 590.4,108.8 591.5,108.8 591.5,107.3 594.05,107.3 594.05,107.05 596.6,107.05 596.6,106.8 597.6,104.2 599.92,104.2 599.92,103.95 602.25,103.95 602.25,103.7 604.58,103.7 604.58,103.45 606.9,103.45 606.9,103.2 625.6,103.2 626.6,103.2 626.6,102.7 635.9,102.5 636.9,102.5 636.9,102.1 638.97,102.1 638.97,101.43 641.03,101.43 641.03,100.77 643.1,100.77 643.1,100.1 644.1,100.1 644.1,99.1 654.4,98.9 655.4,98.9 655.4,98 656.5,92.4 671.9,92.4" fill="none" stroke="#2ca02c" stroke-width="1.0" stroke-linejoin="miter"/>
<polyline points="412.1,169.2 414.13,169.2 414.13,166.8 416.17,166.8 416.17,164.4 418.2,164.4 418.2,162 420.3,162 420.3,160.45 422.4,160.45 422.4,158.9 424.45,158.9 424.45,158 426.5,158 426.5,157.1 428.55,157.1 428.55,156.2 430.6,156.2 430.6,155.3 432.65,155.3 432.65,154 434.7,154 434.7,152.7 436.75,152.7 436.75,151.4 438.8,151.4 438.8,150.1 440.86,150.1 440.86,149.6 442.92,149.6 442.92,149.1 444.98,149.1 444.98,148.6 447.04,148.6 447.04,148.1 449.1,148.1 449.1,147.6 451.5,147.6 451.5,147.23 453.9,147.23 453.9,146.87 456.3,146.87 456.3,146.5 458.9,146.5 458.9,145.25 461.5,145.25 461.5,144 463.53,144 463.53,142.97 465.57,142.97 465.57,141.93 467.6,141.93 467.6,140.9 470.2,140.9 470.2,139.6 472.8,139.6 472.8,138.3 474.9,138.3 474.9,135.7 476.97,135.7 476.97,135.52 479.05,135.52 479.05,135.35 481.12,135.35 481.12,135.18 483.2,135.18 483.2,135 484.3,132.9 486.7,132.9 486.7,132.73 489.1,132.73 489.1,132.57 491.5,132.57 491.5,132.4 492.5,132.4 492.5,130.9 495.05,130.9 495.05,130.4 497.6,130.4 497.6,129.9 499.68,129.9 499.68,129.62 501.75,129.62 501.75,129.35 503.82,129.35 503.82,129.08 505.9,129.08 505.9,128.8 507.95,128.8 507.95,127.8 510,127.8 510,126.8 512.07,126.8 512.07,126.43 514.13,126.43 514.13,126.07 516.2,126.07 516.2,125.7 518.27,125.7 518.27,124.5 520.33,124.5 520.33,123.3 522.4,123.3 522.4,122.1 524.7,122.1 524.7,121.97 527,121.97 527,121.85 529.3,121.85 529.3,121.72 531.6,121.72 531.6,121.6 532.6,118 534.67,118 534.67,117.88 536.73,117.88 536.73,117.77 538.8,117.77 538.8,117.65 540.87,117.65 540.87,117.53 542.93,117.53 542.93,117.42 545,117.42 545,117.3 555.4,117.1 557.47,117.1 557.47,116.73 559.53,116.73 559.53,116.37 561.6,116.37 561.6,116 562.6,112.9 565.03,112.9 565.03,112.73 567.47,112.73 567.47,112.57 569.9,112.57 569.9,112.4 570.4,109.3 572.43,109.3 572.43,109.13 574.47,109.13 574.47,108.97 576.5,108.97 576.5,108.8 577.1,105.2 579.5,105.2 579.5,105.03 581.9,105.03 581.9,104.87 584.3,104.87 584.3,104.7 585.3,97.5 587.7,97.5 587.7,97.33 590.1,97.33 590.1,97.17 592.5,97.17 592.5,97 593.5,97 593.5,96 596.6,96 596.6,95.4 597.6,95.4 597.6,94.4 621,94.5 621.5,93.4 623.37,93.4 623.37,93.23 625.23,93.23 625.23,93.07 627.1,93.07 627.1,92.9 628.2,90.3 630.77,90.3 630.77,90.13 633.33,90.13 633.33,89.97 635.9,89.97 635.9,89.8 636.9,89.8 636.9,89.3 653.4,89.3 654.4,89.3 654.4,87.7 656.5,87.7 656.5,86.5 663.7,86.2 664.2,76.4 665.7,76.4 665.7,75.4 671.9,75.2" fill="none" stroke="#9467bd" stroke-width="1.0" stroke-linejoin="miter"/>
<polygon points="41.8,323 42.6,315 43.3,310.5 47.7,306.8 50.6,306.1 72.5,305.4 91.5,303.2 98.8,301.4 146,301.4 150.4,299.5 301.1,299.3 301.1,302.2 285,302.2 285,303.2 263.2,303.2 263.2,304.6 188.4,304.6 181,306 150.4,306.4 146,308.3 98.8,308.7 91.5,309.7 72.5,311.2 57.9,312.7 50.6,313.4 47.7,316.3 44,320 42.5,323 41.8,323" fill="#1f77b4" fill-opacity="0.2"/>
<polygon points="42.1,273.4 42.6,269.1 44,266.9 46.2,265.8 50.6,265.4 55,264.7 59.4,263.5 72.5,262.9 94.4,262.6 152.6,262.5 153.4,261 182.6,260.6 183.3,259.9 232.5,259.5 301.1,259.4 301.1,263 232.5,263.1 183.3,263.5 182.6,264.2 153.4,264.6 152.6,266.1 94.4,266.2 72.5,266.5 59.4,267.1 55,268.3 50.6,269 46.2,269.4 44,270.5 42.6,272.7 42.1,277" fill="#ff7f0e" fill-opacity="0.2"/>
<polygon points="42.1,275.6 43.3,270.5 44.8,269 50.6,268.3 57.9,267.6 62.3,266.8 79.8,266.1 101.7,265.4 136,265.1 230,264.8 260.3,264.7 301.1,264.2 301.1,266.8 260.3,267.3 230,267.4 136,267.7 101.7,268 79.8,268.7 62.3,269.4 57.9,270.2 50.6,270.9 44.8,271.6 43.3,273.1 42.1,278.2" fill="#2ca02c" fill-opacity="0.2"/>
<polyline points="41.95,323 42.6,317.8 44.8,314.9 47.7,311.9 49.9,310.2 57.9,309.3 65.2,308.7 72.5,307.8 91.5,306.8 92,306 98.8,305.4 146,305.4 150.4,303.2 178.2,302.7 181.1,302 217.6,301.7 222,301 301.1,301" fill="none" stroke="#1f77b4" stroke-width="1.0" stroke-linejoin="miter"/>
<polyline points="42,285 42.1,275.4 42.6,271.1 44,268.9 46.2,267.8 50.6,267.4 55,266.7 59.4,265.5 72.5,264.9 94.4,264.6 152.6,264.5 153.4,263 182.6,262.6 183.3,261.9 232.5,261.5 301.1,261.4" fill="none" stroke="#ff7f0e" stroke-width="1.0" stroke-linejoin="miter"/>
<polyline points="41.95,414.3 41.95,323 42.1,276.9 43.3,271.8 44.8,270.3 50.6,269.6 57.9,268.9 62.3,268.1 79.8,267.4 101.7,266.7 136,266.4 230,266.1 260.3,266 301.1,265.5" fill="none" stroke="#2ca02c" stroke-width="1.0" stroke-linejoin="miter"/>
<polygon points="413,384.94 414.6,384.94 414.6,370.6 416.2,370.6 416.2,365.28 417.8,365.28 417.8,359.96 419.4,359.96 419.4,355.03 421,355.03 421,351.7 422.6,351.7 422.6,348.36 424.2,348.36 424.2,345.03 425.8,345.03 425.8,341.69 427.4,341.69 427.4,340.23 429,340.23 429,339.35 430.6,339.35 430.6,338.47 432.2,338.47 432.2,337.59 433.8,337.59 433.8,336.71 435.4,336.71 435.4,336.19 437,336.19 437,335.79 438.6,335.79 438.6,335.39 440.2,335.39 440.2,334.99 441.8,334.99 441.8,334.59 443.4,334.59 443.4,334.18 445,334.18 445,333.73 446.6,333.73 446.6,333.27 448.2,333.27 448.2,332.82 449.8,332.82 449.8,332.36 451.4,332.36 451.4,331.91 453,331.91 453,331.45 454.6,331.45 454.6,330.29 456.2,330.29 456.2,329.03 457.8,329.03 457.8,327.78 459.4,327.78 459.4,326.52 461,326.52 461,325.27 462.6,325.27 462.6,324.01 464.2,324.01 464.2,322.99 465.8,322.99 465.8,322.19 467.4,322.19 467.4,321.39 469,321.39 469,320.59 470.6,320.59 470.6,319.79 472.2,319.79 472.2,318.99 473.8,318.99 473.8,317.97 475.4,317.97 475.4,316.95 477,316.95 477,315.93 478.6,315.93 478.6,315.18 480.2,315.18 480.2,314.87 481.8,314.87 481.8,314.57 483.4,314.57 483.4,314.26 485,314.26 485,313.95 486.6,313.95 486.6,313.76 488.2,313.76 488.2,313.58 489.8,313.58 489.8,313.4 491.4,313.4 491.4,313.23 493,313.23 493,313.04 494.6,313.04 494.6,312.82 496.2,312.82 496.2,312.6 497.8,312.6 497.8,312.38 499.4,312.38 499.4,312.16 501,312.16 501,311.95 502.6,311.95 502.6,311.73 504.2,311.73 504.2,311.51 505.8,311.51 505.8,311.19 507.4,311.19 507.4,310.79 509,310.79 509,310.39 510.6,310.39 510.6,309.99 512.2,309.99 512.2,309.59 513.8,309.59 513.8,309.19 515.4,309.19 515.4,308.8 517,308.8 517,308.4 518.6,308.4 518.6,308.01 520.2,308.01 520.2,307.61 521.8,307.61 521.8,307.22 523.4,307.22 523.4,306.83 525,306.83 525,306.43 526.6,306.43 526.6,306.04 528.2,306.04 528.2,305.64 529.8,305.64 529.8,305.37 531.4,305.37 531.4,305.28 533,305.28 533,305.19 534.6,305.19 534.6,305.1 536.2,305.1 536.2,305.02 537.8,305.02 537.8,304.93 539.4,304.93 539.4,304.84 541,304.84 541,304.75 542.6,304.75 542.6,304.66 544.2,304.66 544.2,304.56 545.8,304.56 545.8,304.41 547.4,304.41 547.4,304.25 549,304.25 549,304.1 550.6,304.1 550.6,303.95 552.2,303.95 552.2,303.79 553.8,303.79 553.8,303.64 555.4,303.64 555.4,303.49 557,303.49 557,303.33 558.6,303.33 558.6,303.18 560.2,303.18 560.2,303.01 561.8,303.01 561.8,302.85 563.4,302.85 563.4,302.68 565,302.68 565,302.52 566.6,302.52 566.6,302.36 568.2,302.36 568.2,302.19 569.8,302.19 569.8,302.03 571.4,302.03 571.4,301.86 573,301.86 573,301.7 574.6,301.7 574.6,301.46 576.2,301.46 576.2,301.21 577.8,301.21 577.8,300.97 579.4,300.97 579.4,300.73 581,300.73 581,300.49 582.6,300.49 582.6,300.25 584.2,300.25 584.2,300.01 585.8,300.01 585.8,299.77 587.4,299.77 587.4,299.53 589,299.53 589,299.42 590.6,299.42 590.6,299.33 592.2,299.33 592.2,299.24 593.8,299.24 593.8,299.15 595.4,299.15 595.4,299.06 597,299.06 597,298.97 598.6,298.97 598.6,298.89 600.2,298.89 600.2,298.8 601.8,298.8 601.8,298.71 603.4,298.71 603.4,298.62 605,298.62 605,298.53 606.6,298.53 606.6,298.44 608.2,298.44 608.2,298.35 609.8,298.35 609.8,298.26 611.4,298.26 611.4,298.14 613,298.14 613,297.97 614.6,297.97 614.6,297.8 616.2,297.8 616.2,297.63 617.8,297.63 617.8,297.46 619.4,297.46 619.4,297.28 621,297.28 621,297.11 622.6,297.11 622.6,296.94 624.2,296.94 624.2,296.77 625.8,296.77 625.8,296.6 627.4,296.6 627.4,296.42 629,296.42 629,296.25 630.6,296.25 630.6,296.08 632.2,296.08 632.2,295.91 633.8,295.91 633.8,295.73 635.4,295.73 635.4,295.56 637,295.56 637,295.46 638.6,295.46 638.6,295.4 640.2,295.4 640.2,295.33 641.8,295.33 641.8,295.27 643.4,295.27 643.4,295.21 645,295.21 645,295.15 646.6,295.15 646.6,295.08 648.2,295.08 648.2,295.02 649.8,295.02 649.8,294.96 651.4,294.96 651.4,294.89 653,294.89 653,294.83 654.6,294.83 654.6,294.77 656.2,294.77 656.2,294.7 657.8,294.7 657.8,294.64 659.4,294.64 659.4,294.58 661,294.58 661,294.52 662.6,294.52 662.6,294.45 664.2,294.45 664.2,294.39 665.8,294.39 665.8,294.33 667.4,294.33 667.4,294.26 669,294.26 669,294.2 670.6,294.2 670.6,294.14 671.6,294.14 671.6,294.1 671.6,307.9 671.6,308.01 670.6,308.01 670.6,308.2 669,308.2 669,308.38 667.4,308.38 667.4,308.56 665.8,308.56 665.8,308.75 664.2,308.75 664.2,308.93 662.6,308.93 662.6,308.99 661,308.99 661,309.04 659.4,309.04 659.4,309.09 657.8,309.09 657.8,309.15 656.2,309.15 656.2,309.2 654.6,309.2 654.6,309.25 653,309.25 653,309.3 651.4,309.3 651.4,309.35 649.8,309.35 649.8,309.41 648.2,309.41 648.2,309.46 646.6,309.46 646.6,309.51 645,309.51 645,309.56 643.4,309.56 643.4,309.9 641.8,309.9 641.8,310.34 640.2,310.34 640.2,310.78 638.6,310.78 638.6,311.22 637,311.22 637,311.47 635.4,311.47 635.4,311.4 633.8,311.4 633.8,311.33 632.2,311.33 632.2,311.25 630.6,311.25 630.6,311.18 629,311.18 629,311.11 627.4,311.11 627.4,311.03 625.8,311.03 625.8,310.96 624.2,310.96 624.2,310.88 622.6,310.88 622.6,310.81 621,310.81 621,310.74 619.4,310.74 619.4,310.66 617.8,310.66 617.8,310.77 616.2,310.77 616.2,311.74 614.6,311.74 614.6,312.71 613,312.71 613,313.68 611.4,313.68 611.4,313.94 609.8,313.94 609.8,313.85 608.2,313.85 608.2,313.76 606.6,313.76 606.6,313.67 605,313.67 605,313.58 603.4,313.58 603.4,313.49 601.8,313.49 601.8,313.4 600.2,313.4 600.2,313.31 598.6,313.31 598.6,313.23 597,313.23 597,313.14 595.4,313.14 595.4,313.05 593.8,313.05 593.8,312.96 592.2,312.96 592.2,312.87 590.6,312.87 590.6,312.78 589,312.78 589,312.75 587.4,312.75 587.4,313.16 585.8,313.16 585.8,313.58 584.2,313.58 584.2,314 582.6,314 582.6,314.41 581,314.41 581,314.8 579.4,314.8 579.4,315.18 577.8,315.18 577.8,315.55 576.2,315.55 576.2,315.92 574.6,315.92 574.6,316.3 573,316.3 573,316.46 571.4,316.46 571.4,316.63 569.8,316.63 569.8,316.79 568.2,316.79 568.2,316.96 566.6,316.96 566.6,317.12 565,317.12 565,317.28 563.4,317.28 563.4,317.45 561.8,317.45 561.8,317.61 560.2,317.61 560.2,317.78 558.6,317.78 558.6,318.08 557,318.08 557,318.41 555.4,318.41 555.4,318.74 553.8,318.74 553.8,319.07 552.2,319.07 552.2,319.4 550.6,319.4 550.6,319.73 549,319.73 549,320.06 547.4,320.06 547.4,320.38 545.8,320.38 545.8,320.71 544.2,320.71 544.2,321.09 542.6,321.09 542.6,321.49 541,321.49 541,321.88 539.4,321.88 539.4,322.27 537.8,322.27 537.8,322.67 536.2,322.67 536.2,323.06 534.6,323.06 534.6,323.46 533,323.46 533,323.85 531.4,323.85 531.4,324.25 529.8,324.25 529.8,324.55 528.2,324.55 528.2,324.79 526.6,324.79 526.6,325.03 525,325.03 525,325.27 523.4,325.27 523.4,325.51 521.8,325.51 521.8,325.75 520.2,325.75 520.2,325.99 518.6,325.99 518.6,326.24 517,326.24 517,326.48 515.4,326.48 515.4,326.96 513.8,326.96 513.8,327.69 512.2,327.69 512.2,328.42 510.6,328.42 510.6,329.16 509,329.16 509,329.89 507.4,329.89 507.4,330.62 505.8,330.62 505.8,331.41 504.2,331.41 504.2,332.26 502.6,332.26 502.6,333.11 501,333.11 501,333.95 499.4,333.95 499.4,334.46 497.8,334.46 497.8,334.35 496.2,334.35 496.2,334.24 494.6,334.24 494.6,334.13 493,334.13 493,334.26 491.4,334.26 491.4,334.48 489.8,334.48 489.8,334.7 488.2,334.7 488.2,334.92 486.6,334.92 486.6,335.18 485,335.18 485,335.67 483.4,335.67 483.4,336.15 481.8,336.15 481.8,336.63 480.2,336.63 480.2,337.11 478.6,337.11 478.6,337.65 477,337.65 477,338.23 475.4,338.23 475.4,338.81 473.8,338.81 473.8,342.35 472.2,342.35 472.2,342.9 470.6,342.9 470.6,343.41 469,343.41 469,343.92 467.4,343.92 467.4,344.43 465.8,344.43 465.8,344.94 464.2,344.94 464.2,345.62 462.6,345.62 462.6,346.47 461,346.47 461,347.32 459.4,347.32 459.4,347.86 457.8,347.86 457.8,348.28 456.2,348.28 456.2,348.7 454.6,348.7 454.6,349.21 453,349.21 453,350.43 451.4,350.43 451.4,351.24 449.8,351.24 449.8,351.34 448.2,351.34 448.2,351.44 446.6,351.44 446.6,351.75 445,351.75 445,353.76 443.4,353.76 443.4,355.8 441.8,355.8 441.8,357.87 440.2,357.87 440.2,358.06 438.6,358.06 438.6,357.96 437,357.96 437,358.35 435.4,358.35 435.4,360.97 433.8,360.97 433.8,363.21 432.2,363.21 432.2,364.95 430.6,364.95 430.6,366.01 429,366.01 429,367.06 427.4,367.06 427.4,370.7 425.8,370.7 425.8,376.33 424.2,376.33 424.2,383.7 422.6,383.7 422.6,382.57 421,382.57 421,385.34 419.4,385.34 419.4,390.55 417.8,390.55 417.8,388.87 416.2,388.87 416.2,391.14 414.6,391.14 414.6,392.26 413,392.26" fill="#1f77b4" fill-opacity="0.2"/>
<rect x="412.1" y="398" width="0.9" height="16.8" fill="#1f77b4" fill-opacity="0.2"/>
<polygon points="413.2,290.94 414.8,290.94 414.8,286.34 415.6,286.34 415.6,285.96 416.4,285.96 416.4,285.57 418,285.57 418,284.92 419.6,284.92 419.6,284.62 421.2,284.62 421.2,284.33 422.8,284.33 422.8,283.74 424.4,283.74 424.4,282.94 426,282.94 426,282.14 427.6,282.14 427.6,281.48 429.2,281.48 429.2,280.85 430.8,280.85 430.8,280.26 432.4,280.26 432.4,279.71 434,279.71 434,279.17 435.6,279.17 435.6,278.63 437.2,278.63 437.2,278.06 438.8,278.06 438.8,277.47 440.4,277.47 440.4,276.89 442,276.89 442,276.35 443.6,276.35 443.6,275.88 445.2,275.88 445.2,275.41 446.8,275.41 446.8,274.94 448.4,274.94 448.4,274.46 450,274.46 450,273.99 451.6,273.99 451.6,273.52 453.2,273.52 453.2,273.24 454.8,273.24 454.8,272.97 456.4,272.97 456.4,272.69 458,272.69 458,272.42 459.6,272.42 459.6,272.15 461.2,272.15 461.2,271.87 462.8,271.87 462.8,271.6 464.4,271.6 464.4,271.26 466,271.26 466,270.89 467.6,270.89 467.6,270.52 469.2,270.52 469.2,270.14 470.8,270.14 470.8,269.77 472.4,269.77 472.4,269.4 474,269.4 474,269.03 475.6,269.03 475.6,268.65 477.2,268.65 477.2,268.28 478.8,268.28 478.8,267.97 480.4,267.97 480.4,267.71 482,267.71 482,267.46 483.6,267.46 483.6,267.2 485.2,267.2 485.2,266.94 486.8,266.94 486.8,266.69 488.4,266.69 488.4,266.43 490,266.43 490,266.17 491.6,266.17 491.6,265.97 493.2,265.97 493.2,265.88 494.8,265.88 494.8,265.79 496.4,265.79 496.4,265.69 498,265.69 498,265.6 499.6,265.6 499.6,265.51 501.2,265.51 501.2,265.42 502.8,265.42 502.8,265.33 504.4,265.33 504.4,265.23 506,265.23 506,265.2 507.6,265.2 507.6,265.2 509.2,265.2 509.2,265.2 510.8,265.2 510.8,265.2 512.4,265.2 512.4,265.2 514,265.2 514,265.2 515.6,265.2 515.6,265.2 517.2,265.2 517.2,265.2 518.8,265.2 518.8,265.2 520.4,265.2 520.4,265.2 522,265.2 522,265.2 523.6,265.2 523.6,265.2 525.2,265.2 525.2,265.2 526.8,265.2 526.8,265.2 528.4,265.2 528.4,265.2 530,265.2 530,265.12 531.6,265.12 531.6,264.97 533.2,264.97 533.2,264.81 534.8,264.81 534.8,264.66 536.4,264.66 536.4,264.51 538,264.51 538,264.35 539.6,264.35 539.6,264.2 541.2,264.2 541.2,264.05 542.8,264.05 542.8,263.89 544.4,263.89 544.4,263.73 546,263.73 546,263.54 547.6,263.54 547.6,263.36 549.2,263.36 549.2,263.17 550.8,263.17 550.8,262.99 552.4,262.99 552.4,262.8 554,262.8 554,262.62 555.6,262.62 555.6,262.43 557.2,262.43 557.2,262.25 558.8,262.25 558.8,262.06 560.4,262.06 560.4,261.88 562,261.88 562,261.69 563.6,261.69 563.6,261.59 565.2,261.59 565.2,261.57 566.8,261.57 566.8,261.55 568.4,261.55 568.4,261.52 570,261.52 570,261.5 571.6,261.5 571.6,261.48 573.2,261.48 573.2,261.46 574.8,261.46 574.8,261.44 576.4,261.44 576.4,261.42 578,261.42 578,261.4 579.6,261.4 579.6,261.37 581.2,261.37 581.2,261.35 582.8,261.35 582.8,261.33 584.4,261.33 584.4,261.31 586,261.31 586,261.29 587.6,261.29 587.6,261.27 589.2,261.27 589.2,261.24 590.8,261.24 590.8,261.22 592.4,261.22 592.4,261.2 594,261.2 594,261.18 595.6,261.18 595.6,261.16 597.2,261.16 597.2,261.14 598.8,261.14 598.8,261.12 600.4,261.12 600.4,261.1 602,261.1 602,261.08 603.6,261.08 603.6,261.06 605.2,261.06 605.2,261.04 606.8,261.04 606.8,261.02 608.4,261.02 608.4,261.01 610,261.01 610,260.99 611.6,260.99 611.6,260.97 613.2,260.97 613.2,260.95 614.8,260.95 614.8,260.93 616.4,260.93 616.4,260.92 618,260.92 618,260.9 619.6,260.9 619.6,260.88 621.2,260.88 621.2,260.86 622.8,260.86 622.8,260.85 624.4,260.85 624.4,260.83 626,260.83 626,260.81 627.6,260.81 627.6,260.79 629.2,260.79 629.2,260.77 630.8,260.77 630.8,260.76 632.4,260.76 632.4,260.74 634,260.74 634,260.72 635.6,260.72 635.6,260.7 637.2,260.7 637.2,260.68 638.8,260.68 638.8,260.67 640.4,260.67 640.4,260.65 642,260.65 642,260.63 643.6,260.63 643.6,260.61 645.2,260.61 645.2,260.59 646.8,260.59 646.8,260.58 648.4,260.58 648.4,260.56 650,260.56 650,260.54 651.6,260.54 651.6,260.52 653.2,260.52 653.2,260.51 654.8,260.51 654.8,260.49 656.4,260.49 656.4,260.47 658,260.47 658,260.45 659.6,260.45 659.6,260.43 661.2,260.43 661.2,260.42 662.8,260.42 662.8,260.4 664.4,260.4 664.4,260.38 666,260.38 666,260.36 667.6,260.36 667.6,260.34 669.2,260.34 669.2,260.33 670.8,260.33 670.8,260.31 671.6,260.31 671.6,260.3 671.6,266.5 671.6,266.52 670.8,266.52 670.8,266.55 669.2,266.55 669.2,266.58 667.6,266.58 667.6,266.61 666,266.61 666,266.64 664.4,266.64 664.4,266.67 662.8,266.67 662.8,266.7 661.2,266.7 661.2,266.74 659.6,266.74 659.6,266.77 658,266.77 658,266.8 656.4,266.8 656.4,266.83 654.8,266.83 654.8,266.86 653.2,266.86 653.2,266.89 651.6,266.89 651.6,266.93 650,266.93 650,266.96 648.4,266.96 648.4,266.99 646.8,266.99 646.8,267.02 645.2,267.02 645.2,267.05 643.6,267.05 643.6,267.08 642,267.08 642,267.12 640.4,267.12 640.4,267.15 638.8,267.15 638.8,267.18 637.2,267.18 637.2,267.21 635.6,267.21 635.6,267.24 634,267.24 634,267.27 632.4,267.27 632.4,267.3 630.8,267.3 630.8,267.34 629.2,267.34 629.2,267.37 627.6,267.37 627.6,267.41 626,267.41 626,267.53 624.4,267.53 624.4,267.65 622.8,267.65 622.8,267.76 621.2,267.76 621.2,267.88 619.6,267.88 619.6,267.99 618,267.99 618,268.11 616.4,268.11 616.4,268.23 614.8,268.23 614.8,268.34 613.2,268.34 613.2,268.46 611.6,268.46 611.6,268.57 610,268.57 610,268.69 608.4,268.69 608.4,268.81 606.8,268.81 606.8,268.92 605.2,268.92 605.2,269.04 603.6,269.04 603.6,269.15 602,269.15 602,269.27 600.4,269.27 600.4,269.35 598.8,269.35 598.8,269.41 597.2,269.41 597.2,269.47 595.6,269.47 595.6,269.53 594,269.53 594,269.59 592.4,269.59 592.4,269.65 590.8,269.65 590.8,269.71 589.2,269.71 589.2,269.78 587.6,269.78 587.6,269.84 586,269.84 586,269.9 584.4,269.9 584.4,269.96 582.8,269.96 582.8,270.02 581.2,270.02 581.2,270.08 579.6,270.08 579.6,270.14 578,270.14 578,270.21 576.4,270.21 576.4,270.27 574.8,270.27 574.8,270.33 573.2,270.33 573.2,270.53 571.6,270.53 571.6,270.75 570,270.75 570,270.97 568.4,270.97 568.4,271.19 566.8,271.19 566.8,271.4 565.2,271.4 565.2,271.62 563.6,271.62 563.6,271.76 562,271.76 562,271.82 560.4,271.82 560.4,271.88 558.8,271.88 558.8,271.93 557.2,271.93 557.2,271.99 555.6,271.99 555.6,272.04 554,272.04 554,272.1 552.4,272.1 552.4,272.16 550.8,272.16 550.8,272.21 549.2,272.21 549.2,272.27 547.6,272.27 547.6,272.32 546,272.32 546,272.38 544.4,272.38 544.4,272.41 542.8,272.41 542.8,272.44 541.2,272.44 541.2,272.46 539.6,272.46 539.6,272.48 538,272.48 538,272.5 536.4,272.5 536.4,272.52 534.8,272.52 534.8,272.54 533.2,272.54 533.2,272.57 531.6,272.57 531.6,272.59 530,272.59 530,272.66 528.4,272.66 528.4,272.8 526.8,272.8 526.8,272.93 525.2,272.93 525.2,273.06 523.6,273.06 523.6,273.19 522,273.19 522,273.33 520.4,273.33 520.4,273.46 518.8,273.46 518.8,273.59 517.2,273.59 517.2,273.72 515.6,273.72 515.6,273.85 514,273.85 514,273.99 512.4,273.99 512.4,274.12 510.8,274.12 510.8,274.25 509.2,274.25 509.2,274.38 507.6,274.38 507.6,274.52 506,274.52 506,274.6 504.4,274.6 504.4,274.62 502.8,274.62 502.8,274.63 501.2,274.63 501.2,274.64 499.6,274.64 499.6,274.65 498,274.65 498,274.66 496.4,274.66 496.4,274.67 494.8,274.67 494.8,274.68 493.2,274.68 493.2,275.68 491.6,275.68 491.6,276.81 490,276.81 490,277.71 488.4,277.71 488.4,278.61 486.8,278.61 486.8,279.49 485.2,279.49 485.2,279.89 483.6,279.89 483.6,280.29 482,280.29 482,280.69 480.4,280.69 480.4,281.09 478.8,281.09 478.8,281.44 477.2,281.44 477.2,281.72 475.6,281.72 475.6,282.01 474,282.01 474,282.29 472.4,282.29 472.4,282.58 470.8,282.58 470.8,282.57 469.2,282.57 469.2,282.53 467.6,282.53 467.6,282.5 466,282.5 466,282.45 464.4,282.45 464.4,282.44 462.8,282.44 462.8,282.48 461.2,282.48 461.2,282.97 459.6,282.97 459.6,283.52 458,283.52 458,284.08 456.4,284.08 456.4,284.51 454.8,284.51 454.8,284.57 453.2,284.57 453.2,284.62 451.6,284.62 451.6,284.77 450,284.77 450,285.85 448.4,285.85 448.4,286.73 446.8,286.73 446.8,287.37 445.2,287.37 445.2,288 443.6,288 443.6,288.63 442,288.63 442,289.25 440.4,289.25 440.4,289.85 438.8,289.85 438.8,290.47 437.2,290.47 437.2,291.13 435.6,291.13 435.6,291.81 434,291.81 434,292.02 432.4,292.02 432.4,292.21 430.8,292.21 430.8,292.65 429.2,292.65 429.2,293.28 427.6,293.28 427.6,293.89 426,293.89 426,294.41 424.4,294.41 424.4,294.89 422.8,294.89 422.8,294.97 421.2,294.97 421.2,295.86 419.6,295.86 419.6,297.39 418,297.39 418,299.19 416.4,299.19 416.4,300.4 415.6,300.4 415.6,308.02 414.8,308.02 414.8,322.15 413.2,322.15" fill="#ff7f0e" fill-opacity="0.2"/>
<polygon points="413.2,316.78 414.2,316.78 414.2,311.25 414.8,311.25 414.8,308.48 416.4,308.48 416.4,306.88 418,306.88 418,305.28 419.6,305.28 419.6,303.65 421.2,303.65 421.2,301.72 422.8,301.72 422.8,299.79 424.4,299.79 424.4,297.88 426,297.88 426,296.32 427.6,296.32 427.6,294.75 429.2,294.75 429.2,293.19 430.8,293.19 430.8,292.33 432.4,292.33 432.4,291.46 434,291.46 434,290.6 435.6,290.6 435.6,290.03 437.2,290.03 437.2,289.49 438.8,289.49 438.8,288.96 440.4,288.96 440.4,288.43 442,288.43 442,287.9 443.6,287.9 443.6,287.38 445.2,287.38 445.2,286.86 446.8,286.86 446.8,286.34 448.4,286.34 448.4,285.82 450,285.82 450,285.34 451.6,285.34 451.6,284.86 453.2,284.86 453.2,284.39 454.8,284.39 454.8,283.91 456.4,283.91 456.4,283.45 458,283.45 458,283.09 459.6,283.09 459.6,282.72 461.2,282.72 461.2,282.36 462.8,282.36 462.8,282 464.4,282 464.4,281.63 466,281.63 466,281.26 467.6,281.26 467.6,280.88 469.2,280.88 469.2,280.49 470.8,280.49 470.8,280.11 472.4,280.11 472.4,279.73 474,279.73 474,279.35 475.6,279.35 475.6,278.97 477.2,278.97 477.2,278.59 478.8,278.59 478.8,278.28 480.4,278.28 480.4,278.04 482,278.04 482,277.79 483.6,277.79 483.6,277.55 485.2,277.55 485.2,277.31 486.8,277.31 486.8,277.07 488.4,277.07 488.4,276.83 490,276.83 490,276.59 491.6,276.59 491.6,276.35 493.2,276.35 493.2,276.16 494.8,276.16 494.8,276.06 496.4,276.06 496.4,275.95 498,275.95 498,275.85 499.6,275.85 499.6,275.75 501.2,275.75 501.2,275.64 502.8,275.64 502.8,275.54 504.4,275.54 504.4,275.44 506,275.44 506,275.31 507.6,275.31 507.6,275.16 509.2,275.16 509.2,275.01 510.8,275.01 510.8,274.86 512.4,274.86 512.4,274.71 514,274.71 514,274.56 515.6,274.56 515.6,274.41 517.2,274.41 517.2,274.27 518.8,274.27 518.8,274.12 520.4,274.12 520.4,273.97 522,273.97 522,273.82 523.6,273.82 523.6,273.67 525.2,273.67 525.2,273.52 526.8,273.52 526.8,273.38 528.4,273.38 528.4,273.23 530,273.23 530,273.08 531.6,273.08 531.6,272.93 533.2,272.93 533.2,272.78 534.8,272.78 534.8,272.63 536.4,272.63 536.4,272.48 538,272.48 538,272.34 539.6,272.34 539.6,272.19 541.2,272.19 541.2,272.04 542.8,272.04 542.8,271.89 544.4,271.89 544.4,271.75 546,271.75 546,271.62 547.6,271.62 547.6,271.5 549.2,271.5 549.2,271.37 550.8,271.37 550.8,271.25 552.4,271.25 552.4,271.12 554,271.12 554,270.99 555.6,270.99 555.6,270.87 557.2,270.87 557.2,270.74 558.8,270.74 558.8,270.61 560.4,270.61 560.4,270.49 562,270.49 562,270.36 563.6,270.36 563.6,270.28 565.2,270.28 565.2,270.26 566.8,270.26 566.8,270.23 568.4,270.23 568.4,270.2 570,270.2 570,270.17 571.6,270.17 571.6,270.14 573.2,270.14 573.2,270.11 574.8,270.11 574.8,270.08 576.4,270.08 576.4,270.05 578,270.05 578,270.02 579.6,270.02 579.6,269.99 581.2,269.99 581.2,269.96 582.8,269.96 582.8,269.93 584.4,269.93 584.4,269.9 586,269.9 586,269.87 587.6,269.87 587.6,269.84 589.2,269.84 589.2,269.81 590.8,269.81 590.8,269.73 592.4,269.73 592.4,269.58 594,269.58 594,269.44 595.6,269.44 595.6,269.29 597.2,269.29 597.2,269.15 598.8,269.15 598.8,269.01 600.4,269.01 600.4,268.89 602,268.89 602,268.84 603.6,268.84 603.6,268.8 605.2,268.8 605.2,268.75 606.8,268.75 606.8,268.71 608.4,268.71 608.4,268.66 610,268.66 610,268.62 611.6,268.62 611.6,268.58 613.2,268.58 613.2,268.53 614.8,268.53 614.8,268.49 616.4,268.49 616.4,268.44 618,268.44 618,268.4 619.6,268.4 619.6,268.35 621.2,268.35 621.2,268.31 622.8,268.31 622.8,268.26 624.4,268.26 624.4,268.22 626,268.22 626,268.17 627.6,268.17 627.6,268.13 629.2,268.13 629.2,268.08 630.8,268.08 630.8,268.04 632.4,268.04 632.4,267.99 634,267.99 634,267.95 635.6,267.95 635.6,267.91 637.2,267.91 637.2,267.86 638.8,267.86 638.8,267.82 640.4,267.82 640.4,267.77 642,267.77 642,267.73 643.6,267.73 643.6,267.68 645.2,267.68 645.2,267.64 646.8,267.64 646.8,267.59 648.4,267.59 648.4,267.55 650,267.55 650,267.5 651.6,267.5 651.6,267.46 653.2,267.46 653.2,267.41 654.8,267.41 654.8,267.37 656.4,267.37 656.4,267.32 658,267.32 658,267.28 659.6,267.28 659.6,267.23 661.2,267.23 661.2,267.19 662.8,267.19 662.8,267.15 664.4,267.15 664.4,267.1 666,267.1 666,267.06 667.6,267.06 667.6,267.01 669.2,267.01 669.2,266.97 670.8,266.97 670.8,266.92 671.6,266.92 671.6,266.9 671.6,260.3 671.6,260.33 670.8,260.33 670.8,260.39 669.2,260.39 669.2,260.46 667.6,260.46 667.6,260.52 666,260.52 666,260.58 664.4,260.58 664.4,260.64 662.8,260.64 662.8,260.71 661.2,260.71 661.2,260.77 659.6,260.77 659.6,260.83 658,260.83 658,260.89 656.4,260.89 656.4,260.96 654.8,260.96 654.8,261.02 653.2,261.02 653.2,261.08 651.6,261.08 651.6,261.14 650,261.14 650,261.21 648.4,261.21 648.4,261.27 646.8,261.27 646.8,261.33 645.2,261.33 645.2,261.39 643.6,261.39 643.6,261.46 642,261.46 642,261.52 640.4,261.52 640.4,261.58 638.8,261.58 638.8,261.64 637.2,261.64 637.2,261.71 635.6,261.71 635.6,261.77 634,261.77 634,261.83 632.4,261.83 632.4,261.89 630.8,261.89 630.8,261.96 629.2,261.96 629.2,262.02 627.6,262.02 627.6,262.08 626,262.08 626,262.15 624.4,262.15 624.4,262.21 622.8,262.21 622.8,262.27 621.2,262.27 621.2,262.33 619.6,262.33 619.6,262.4 618,262.4 618,262.46 616.4,262.46 616.4,262.52 614.8,262.52 614.8,262.58 613.2,262.58 613.2,262.65 611.6,262.65 611.6,262.71 610,262.71 610,262.77 608.4,262.77 608.4,262.83 606.8,262.83 606.8,262.9 605.2,262.9 605.2,262.96 603.6,262.96 603.6,263.02 602,263.02 602,263.08 600.4,263.08 600.4,263.03 598.8,263.03 598.8,262.93 597.2,262.93 597.2,262.84 595.6,262.84 595.6,262.74 594,262.74 594,262.64 592.4,262.64 592.4,262.55 590.8,262.55 590.8,262.51 589.2,262.51 589.2,262.52 587.6,262.52 587.6,262.54 586,262.54 586,262.56 584.4,262.56 584.4,262.58 582.8,262.58 582.8,262.6 581.2,262.6 581.2,262.61 579.6,262.61 579.6,262.63 578,262.63 578,262.65 576.4,262.65 576.4,262.67 574.8,262.67 574.8,262.69 573.2,262.69 573.2,262.85 571.6,262.85 571.6,263.04 570,263.04 570,263.23 568.4,263.23 568.4,263.42 566.8,263.42 566.8,263.61 565.2,263.61 565.2,263.8 563.6,263.8 563.6,263.94 562,263.94 562,264.04 560.4,264.04 560.4,264.13 558.8,264.13 558.8,264.22 557.2,264.22 557.2,264.31 555.6,264.31 555.6,264.41 554,264.41 554,264.5 552.4,264.5 552.4,264.59 550.8,264.59 550.8,264.69 549.2,264.69 549.2,264.78 547.6,264.78 547.6,264.87 546,264.87 546,264.96 544.4,264.96 544.4,265.07 542.8,265.07 542.8,265.18 541.2,265.18 541.2,265.3 539.6,265.3 539.6,265.41 538,265.41 538,265.53 536.4,265.53 536.4,265.64 534.8,265.64 534.8,265.76 533.2,265.76 533.2,265.87 531.6,265.87 531.6,265.99 530,265.99 530,266.13 528.4,266.13 528.4,266.31 526.8,266.31 526.8,266.49 525.2,266.49 525.2,266.67 523.6,266.67 523.6,266.85 522,266.85 522,267.03 520.4,267.03 520.4,267.22 518.8,267.22 518.8,267.4 517.2,267.4 517.2,267.58 515.6,267.58 515.6,267.77 514,267.77 514,267.99 512.4,267.99 512.4,268.21 510.8,268.21 510.8,268.42 509.2,268.42 509.2,268.64 507.6,268.64 507.6,268.86 506,268.86 506,269.02 504.4,269.02 504.4,269.07 502.8,269.07 502.8,269.12 501.2,269.12 501.2,269.17 499.6,269.17 499.6,269.23 498,269.23 498,269.28 496.4,269.28 496.4,269.33 494.8,269.33 494.8,269.38 493.2,269.38 493.2,269.49 491.6,269.49 491.6,269.65 490,269.65 490,269.8 488.4,269.8 488.4,269.95 486.8,269.95 486.8,270.1 485.2,270.1 485.2,270.12 483.6,270.12 483.6,270.14 482,270.14 482,270.17 480.4,270.17 480.4,270.19 478.8,270.19 478.8,270.25 477.2,270.25 477.2,270.35 475.6,270.35 475.6,270.45 474,270.45 474,270.55 472.4,270.55 472.4,270.65 470.8,270.65 470.8,270.77 469.2,270.77 469.2,270.9 467.6,270.9 467.6,271.02 466,271.02 466,271.09 464.4,271.09 464.4,271.05 462.8,271.05 462.8,271.01 461.2,271.01 461.2,271.1 459.6,271.1 459.6,271.47 458,271.47 458,271.85 456.4,271.85 456.4,271.97 454.8,271.97 454.8,272.04 453.2,272.04 453.2,272.12 451.6,272.12 451.6,272.32 450,272.32 450,272.94 448.4,272.94 448.4,273.5 446.8,273.5 446.8,274.03 445.2,274.03 445.2,274.56 443.6,274.56 443.6,275.09 442,275.09 442,276.01 440.4,276.01 440.4,277.02 438.8,277.02 438.8,277.16 437.2,277.16 437.2,277.3 435.6,277.3 435.6,277.39 434,277.39 434,277 432.4,277 432.4,276.61 430.8,276.61 430.8,278.57 429.2,278.57 429.2,279.5 427.6,279.5 427.6,279.16 426,279.16 426,278.83 424.4,278.83 424.4,282.93 422.8,282.93 422.8,288.03 421.2,288.03 421.2,288.46 419.6,288.46 419.6,289.88 418,289.88 418,291.48 416.4,291.48 416.4,293.64 414.8,293.64 414.8,292.49 414.2,292.49 414.2,308.02 413.2,308.02" fill="#2ca02c" fill-opacity="0.2"/>
<polyline points="412.5,398.3 413,388.7 414.8,380 416.5,376.5 418.3,374.8 420,367.8 422.6,366.1 425.2,357.4 427,353.9 431.3,351.3 435.7,347 440,346.6 445.2,342.6 450.4,341.7 459,337.2 463.4,334.3 472.2,330.7 473.6,328.5 478,326.3 485.3,324.5 492.6,323.6 498.4,323.4 505,321.2 514.6,317.8 529.2,314.9 543.8,312.7 558.4,310.5 573,309 580.3,307.6 587.6,306.1 610.9,306.1 616.5,304.1 636,303.5 643,302.4 662.5,301.7 671.6,301" fill="none" stroke="#1f77b4" stroke-width="1.0" stroke-linejoin="miter"/>
<polyline points="412.2,306.7 413.2,299 414.2,297.5 414.7,295.1 415.6,293.2 416.6,292.2 418.5,290.8 420.5,289.8 422.9,289.3 426.3,287.9 430.1,286.4 434,285.5 437.9,284 441.7,282.6 447.5,280.6 450.4,279.2 455.2,278.7 461,277.2 465,276.8 470.7,276.2 478,274.7 485.3,273.2 491.1,271.1 492.6,270.3 505,269.9 529.2,268.9 543.8,268.1 558.4,267 573,265.9 600,265.2 626.3,264.1 671.6,263.4" fill="none" stroke="#ff7f0e" stroke-width="1.0" stroke-linejoin="miter"/>
<polyline points="412.2,312.5 413.2,307.7 414.2,301.9 415.6,300 417.6,298 419.5,296.1 420.9,295.6 422.4,292.2 424.3,288.4 428.2,286.9 430.6,284.5 434,284 438.8,283 441.7,281.6 447.5,279.7 450.4,278.7 456.2,277.7 460.1,276.8 465,276.3 470.7,275.4 478,274.3 485.3,273.7 492.6,272.8 505,272.2 514.6,271.1 529.2,269.6 543.8,268.4 558.4,267.4 573,266.4 600,266 671.6,263.6" fill="none" stroke="#2ca02c" stroke-width="1.0" stroke-linejoin="miter"/>
<line x1="41.7" y1="179.4" x2="41.7" y2="181.4" stroke="#000" stroke-width="0.6"/>
<text x="41.7" y="188.8" font-size="7.95" font-family="Liberation Serif, serif" text-anchor="middle" style="fill:#1e1e1e;stroke:#1e1e1e;stroke-width:0.18">0</text>
<line x1="93.54" y1="179.4" x2="93.54" y2="181.4" stroke="#000" stroke-width="0.6"/>
<text x="93.54" y="188.8" font-size="7.95" font-family="Liberation Serif, serif" text-anchor="middle" style="fill:#1e1e1e;stroke:#1e1e1e;stroke-width:0.18">200</text>
<line x1="145.38" y1="179.4" x2="145.38" y2="181.4" stroke="#000" stroke-width="0.6"/>
<text x="145.38" y="188.8" font-size="7.95" font-family="Liberation Serif, serif" text-anchor="middle" style="fill:#1e1e1e;stroke:#1e1e1e;stroke-width:0.18">400</text>
<line x1="197.22" y1="179.4" x2="197.22" y2="181.4" stroke="#000" stroke-width="0.6"/>
<text x="197.22" y="188.8" font-size="7.95" font-family="Liberation Serif, serif" text-anchor="middle" style="fill:#1e1e1e;stroke:#1e1e1e;stroke-width:0.18">600</text>
<line x1="249.06" y1="179.4" x2="249.06" y2="181.4" stroke="#000" stroke-width="0.6"/>
<text x="249.06" y="188.8" font-size="7.95" font-family="Liberation Serif, serif" text-anchor="middle" style="fill:#1e1e1e;stroke:#1e1e1e;stroke-width:0.18">800</text>
<line x1="300.9" y1="179.4" x2="300.9" y2="181.4" stroke="#000" stroke-width="0.6"/>
<text x="300.9" y="188.8" font-size="7.95" font-family="Liberation Serif, serif" text-anchor="middle" style="fill:#1e1e1e;stroke:#1e1e1e;stroke-width:0.18">1000</text>
<line x1="26.9" y1="170.45" x2="28.9" y2="170.45" stroke="#000" stroke-width="0.6"/>
<text x="25" y="173.65" font-size="7.95" font-family="Liberation Serif, serif" text-anchor="end" style="fill:#1e1e1e;stroke:#1e1e1e;stroke-width:0.18">0</text>
<line x1="26.9" y1="150.55" x2="28.9" y2="150.55" stroke="#000" stroke-width="0.6"/>
<text x="25" y="153.75" font-size="7.95" font-family="Liberation Serif, serif" text-anchor="end" style="fill:#1e1e1e;stroke:#1e1e1e;stroke-width:0.18">200</text>
<line x1="26.9" y1="130.65" x2="28.9" y2="130.65" stroke="#000" stroke-width="0.6"/>
<text x="25" y="133.85" font-size="7.95" font-family="Liberation Serif, serif" text-anchor="end" style="fill:#1e1e1e;stroke:#1e1e1e;stroke-width:0.18">400</text>
<line x1="26.9" y1="110.75" x2="28.9" y2="110.75" stroke="#000" stroke-width="0.6"/>
<text x="25" y="113.95" font-size="7.95" font-family="Liberation Serif, serif" text-anchor="end" style="fill:#1e1e1e;stroke:#1e1e1e;stroke-width:0.18">600</text>
<line x1="26.9" y1="90.85" x2="28.9" y2="90.85" stroke="#000" stroke-width="0.6"/>
<text x="25" y="94.05" font-size="7.95" font-family="Liberation Serif, serif" text-anchor="end" style="fill:#1e1e1e;stroke:#1e1e1e;stroke-width:0.18">800</text>
<line x1="26.9" y1="70.95" x2="28.9" y2="70.95" stroke="#000" stroke-width="0.6"/>
<text x="25" y="74.15" font-size="7.95" font-family="Liberation Serif, serif" text-anchor="end" style="fill:#1e1e1e;stroke:#1e1e1e;stroke-width:0.18">1000</text>
<line x1="26.9" y1="51.05" x2="28.9" y2="51.05" stroke="#000" stroke-width="0.6"/>
<text x="25" y="54.25" font-size="7.95" font-family="Liberation Serif, serif" text-anchor="end" style="fill:#1e1e1e;stroke:#1e1e1e;stroke-width:0.18">1200</text>
<line x1="26.9" y1="31.15" x2="28.9" y2="31.15" stroke="#000" stroke-width="0.6"/>
<text x="25" y="34.35" font-size="7.95" font-family="Liberation Serif, serif" text-anchor="end" style="fill:#1e1e1e;stroke:#1e1e1e;stroke-width:0.18">1400</text>
<line x1="26.9" y1="11.25" x2="28.9" y2="11.25" stroke="#000" stroke-width="0.6"/>
<text x="25" y="14.45" font-size="7.95" font-family="Liberation Serif, serif" text-anchor="end" style="fill:#1e1e1e;stroke:#1e1e1e;stroke-width:0.18">1600</text>
<rect x="28.9" y="9.4" width="285" height="170" fill="none" stroke="#000" stroke-width="0.7"/>
<text x="89.2" y="6.7" font-size="9.4" font-family="Liberation Serif, serif" textLength="163.8" lengthAdjust="spacingAndGlyphs">Hafnian vs. Iterations via Random Search</text>
<text x="171.4" y="198.3" font-size="8.2" font-family="Liberation Serif, serif" text-anchor="middle" textLength="33" lengthAdjust="spacingAndGlyphs">Iterations</text>
<text transform="translate(6.9,94.4) rotate(-90)" font-size="8.2" font-family="Liberation Serif, serif" text-anchor="middle" textLength="46" lengthAdjust="spacingAndGlyphs">Max-Hafnian</text>
<text x="166.8" y="220.2" font-size="11.7" font-family="Liberation Sans, sans-serif" text-anchor="middle" style="fill:#000">(a)</text>
<line x1="412.2" y1="179.2" x2="412.2" y2="181.2" stroke="#000" stroke-width="0.6"/>
<text x="412.2" y="188.6" font-size="7.95" font-family="Liberation Serif, serif" text-anchor="middle" style="fill:#1e1e1e;stroke:#1e1e1e;stroke-width:0.18">0</text>
<line x1="464.06" y1="179.2" x2="464.06" y2="181.2" stroke="#000" stroke-width="0.6"/>
<text x="464.06" y="188.6" font-size="7.95" font-family="Liberation Serif, serif" text-anchor="middle" style="fill:#1e1e1e;stroke:#1e1e1e;stroke-width:0.18">200</text>
<line x1="515.92" y1="179.2" x2="515.92" y2="181.2" stroke="#000" stroke-width="0.6"/>
<text x="515.92" y="188.6" font-size="7.95" font-family="Liberation Serif, serif" text-anchor="middle" style="fill:#1e1e1e;stroke:#1e1e1e;stroke-width:0.18">400</text>
<line x1="567.78" y1="179.2" x2="567.78" y2="181.2" stroke="#000" stroke-width="0.6"/>
<text x="567.78" y="188.6" font-size="7.95" font-family="Liberation Serif, serif" text-anchor="middle" style="fill:#1e1e1e;stroke:#1e1e1e;stroke-width:0.18">600</text>
<line x1="619.64" y1="179.2" x2="619.64" y2="181.2" stroke="#000" stroke-width="0.6"/>
<text x="619.64" y="188.6" font-size="7.95" font-family="Liberation Serif, serif" text-anchor="middle" style="fill:#1e1e1e;stroke:#1e1e1e;stroke-width:0.18">800</text>
<line x1="671.5" y1="179.2" x2="671.5" y2="181.2" stroke="#000" stroke-width="0.6"/>
<text x="671.5" y="188.6" font-size="7.95" font-family="Liberation Serif, serif" text-anchor="middle" style="fill:#1e1e1e;stroke:#1e1e1e;stroke-width:0.18">1000</text>
<line x1="397.4" y1="171.2" x2="399.4" y2="171.2" stroke="#000" stroke-width="0.6"/>
<text x="395.5" y="174.4" font-size="7.95" font-family="Liberation Serif, serif" text-anchor="end" style="fill:#1e1e1e;stroke:#1e1e1e;stroke-width:0.18">0</text>
<line x1="397.4" y1="139.66" x2="399.4" y2="139.66" stroke="#000" stroke-width="0.6"/>
<text x="395.5" y="142.86" font-size="7.95" font-family="Liberation Serif, serif" text-anchor="end" style="fill:#1e1e1e;stroke:#1e1e1e;stroke-width:0.18">1000</text>
<line x1="397.4" y1="108.12" x2="399.4" y2="108.12" stroke="#000" stroke-width="0.6"/>
<text x="395.5" y="111.32" font-size="7.95" font-family="Liberation Serif, serif" text-anchor="end" style="fill:#1e1e1e;stroke:#1e1e1e;stroke-width:0.18">2000</text>
<line x1="397.4" y1="76.58" x2="399.4" y2="76.58" stroke="#000" stroke-width="0.6"/>
<text x="395.5" y="79.78" font-size="7.95" font-family="Liberation Serif, serif" text-anchor="end" style="fill:#1e1e1e;stroke:#1e1e1e;stroke-width:0.18">3000</text>
<line x1="397.4" y1="45.04" x2="399.4" y2="45.04" stroke="#000" stroke-width="0.6"/>
<text x="395.5" y="48.24" font-size="7.95" font-family="Liberation Serif, serif" text-anchor="end" style="fill:#1e1e1e;stroke:#1e1e1e;stroke-width:0.18">4000</text>
<line x1="397.4" y1="13.5" x2="399.4" y2="13.5" stroke="#000" stroke-width="0.6"/>
<text x="395.5" y="16.7" font-size="7.95" font-family="Liberation Serif, serif" text-anchor="end" style="fill:#1e1e1e;stroke:#1e1e1e;stroke-width:0.18">5000</text>
<rect x="399.4" y="9.4" width="284.9" height="169.8" fill="none" stroke="#000" stroke-width="0.7"/>
<text x="450" y="6.7" font-size="9.4" font-family="Liberation Serif, serif" textLength="184.2" lengthAdjust="spacingAndGlyphs">Hafnian vs. Iterations via Simulated Annealing</text>
<text x="541.85" y="198.1" font-size="8.2" font-family="Liberation Serif, serif" text-anchor="middle" textLength="33" lengthAdjust="spacingAndGlyphs">Iterations</text>
<text transform="translate(377.2,94.3) rotate(-90)" font-size="8.2" font-family="Liberation Serif, serif" text-anchor="middle" textLength="46" lengthAdjust="spacingAndGlyphs">Max-Hafnian</text>
<text x="537.5" y="220" font-size="11.7" font-family="Liberation Sans, sans-serif" text-anchor="middle" style="fill:#000">(b)</text>
<line x1="41.7" y1="422.3" x2="41.7" y2="424.3" stroke="#000" stroke-width="0.6"/>
<text x="41.7" y="431.7" font-size="7.95" font-family="Liberation Serif, serif" text-anchor="middle" style="fill:#1e1e1e;stroke:#1e1e1e;stroke-width:0.18">0</text>
<line x1="93.54" y1="422.3" x2="93.54" y2="424.3" stroke="#000" stroke-width="0.6"/>
<text x="93.54" y="431.7" font-size="7.95" font-family="Liberation Serif, serif" text-anchor="middle" style="fill:#1e1e1e;stroke:#1e1e1e;stroke-width:0.18">200</text>
<line x1="145.38" y1="422.3" x2="145.38" y2="424.3" stroke="#000" stroke-width="0.6"/>
<text x="145.38" y="431.7" font-size="7.95" font-family="Liberation Serif, serif" text-anchor="middle" style="fill:#1e1e1e;stroke:#1e1e1e;stroke-width:0.18">400</text>
<line x1="197.22" y1="422.3" x2="197.22" y2="424.3" stroke="#000" stroke-width="0.6"/>
<text x="197.22" y="431.7" font-size="7.95" font-family="Liberation Serif, serif" text-anchor="middle" style="fill:#1e1e1e;stroke:#1e1e1e;stroke-width:0.18">600</text>
<line x1="249.06" y1="422.3" x2="249.06" y2="424.3" stroke="#000" stroke-width="0.6"/>
<text x="249.06" y="431.7" font-size="7.95" font-family="Liberation Serif, serif" text-anchor="middle" style="fill:#1e1e1e;stroke:#1e1e1e;stroke-width:0.18">800</text>
<line x1="300.9" y1="422.3" x2="300.9" y2="424.3" stroke="#000" stroke-width="0.6"/>
<text x="300.9" y="431.7" font-size="7.95" font-family="Liberation Serif, serif" text-anchor="middle" style="fill:#1e1e1e;stroke:#1e1e1e;stroke-width:0.18">1000</text>
<line x1="26.9" y1="414.3" x2="28.9" y2="414.3" stroke="#000" stroke-width="0.6"/>
<text x="25" y="417.5" font-size="7.95" font-family="Liberation Serif, serif" text-anchor="end" style="fill:#1e1e1e;stroke:#1e1e1e;stroke-width:0.18">0</text>
<line x1="26.9" y1="393.4" x2="28.9" y2="393.4" stroke="#000" stroke-width="0.6"/>
<text x="25" y="396.6" font-size="7.95" font-family="Liberation Serif, serif" text-anchor="end" style="fill:#1e1e1e;stroke:#1e1e1e;stroke-width:0.18">5</text>
<line x1="26.9" y1="372.5" x2="28.9" y2="372.5" stroke="#000" stroke-width="0.6"/>
<text x="25" y="375.7" font-size="7.95" font-family="Liberation Serif, serif" text-anchor="end" style="fill:#1e1e1e;stroke:#1e1e1e;stroke-width:0.18">10</text>
<line x1="26.9" y1="351.6" x2="28.9" y2="351.6" stroke="#000" stroke-width="0.6"/>
<text x="25" y="354.8" font-size="7.95" font-family="Liberation Serif, serif" text-anchor="end" style="fill:#1e1e1e;stroke:#1e1e1e;stroke-width:0.18">15</text>
<line x1="26.9" y1="330.7" x2="28.9" y2="330.7" stroke="#000" stroke-width="0.6"/>
<text x="25" y="333.9" font-size="7.95" font-family="Liberation Serif, serif" text-anchor="end" style="fill:#1e1e1e;stroke:#1e1e1e;stroke-width:0.18">20</text>
<line x1="26.9" y1="309.8" x2="28.9" y2="309.8" stroke="#000" stroke-width="0.6"/>
<text x="25" y="313" font-size="7.95" font-family="Liberation Serif, serif" text-anchor="end" style="fill:#1e1e1e;stroke:#1e1e1e;stroke-width:0.18">25</text>
<line x1="26.9" y1="288.9" x2="28.9" y2="288.9" stroke="#000" stroke-width="0.6"/>
<text x="25" y="292.1" font-size="7.95" font-family="Liberation Serif, serif" text-anchor="end" style="fill:#1e1e1e;stroke:#1e1e1e;stroke-width:0.18">30</text>
<line x1="26.9" y1="268" x2="28.9" y2="268" stroke="#000" stroke-width="0.6"/>
<text x="25" y="271.2" font-size="7.95" font-family="Liberation Serif, serif" text-anchor="end" style="fill:#1e1e1e;stroke:#1e1e1e;stroke-width:0.18">35</text>
<rect x="28.9" y="252.4" width="285" height="169.9" fill="none" stroke="#000" stroke-width="0.7"/>
<text x="90.1" y="249.7" font-size="9.4" font-family="Liberation Serif, serif" textLength="162.8" lengthAdjust="spacingAndGlyphs">Density vs. Iterations via Random Search</text>
<text x="171.4" y="441.2" font-size="8.2" font-family="Liberation Serif, serif" text-anchor="middle" textLength="33" lengthAdjust="spacingAndGlyphs">Iterations</text>
<text transform="translate(14.6,337.35) rotate(-90)" font-size="8.2" font-family="Liberation Serif, serif" text-anchor="middle" textLength="43.6" lengthAdjust="spacingAndGlyphs">Max-density</text>
<text x="166.65" y="463.1" font-size="11.7" font-family="Liberation Sans, sans-serif" text-anchor="middle" style="fill:#000">(c)</text>
<line x1="412.2" y1="422.2" x2="412.2" y2="424.2" stroke="#000" stroke-width="0.6"/>
<text x="412.2" y="431.6" font-size="7.95" font-family="Liberation Serif, serif" text-anchor="middle" style="fill:#1e1e1e;stroke:#1e1e1e;stroke-width:0.18">0</text>
<line x1="464.06" y1="422.2" x2="464.06" y2="424.2" stroke="#000" stroke-width="0.6"/>
<text x="464.06" y="431.6" font-size="7.95" font-family="Liberation Serif, serif" text-anchor="middle" style="fill:#1e1e1e;stroke:#1e1e1e;stroke-width:0.18">200</text>
<line x1="515.92" y1="422.2" x2="515.92" y2="424.2" stroke="#000" stroke-width="0.6"/>
<text x="515.92" y="431.6" font-size="7.95" font-family="Liberation Serif, serif" text-anchor="middle" style="fill:#1e1e1e;stroke:#1e1e1e;stroke-width:0.18">400</text>
<line x1="567.78" y1="422.2" x2="567.78" y2="424.2" stroke="#000" stroke-width="0.6"/>
<text x="567.78" y="431.6" font-size="7.95" font-family="Liberation Serif, serif" text-anchor="middle" style="fill:#1e1e1e;stroke:#1e1e1e;stroke-width:0.18">600</text>
<line x1="619.64" y1="422.2" x2="619.64" y2="424.2" stroke="#000" stroke-width="0.6"/>
<text x="619.64" y="431.6" font-size="7.95" font-family="Liberation Serif, serif" text-anchor="middle" style="fill:#1e1e1e;stroke:#1e1e1e;stroke-width:0.18">800</text>
<line x1="671.5" y1="422.2" x2="671.5" y2="424.2" stroke="#000" stroke-width="0.6"/>
<text x="671.5" y="431.6" font-size="7.95" font-family="Liberation Serif, serif" text-anchor="middle" style="fill:#1e1e1e;stroke:#1e1e1e;stroke-width:0.18">1000</text>
<line x1="397.4" y1="406.1" x2="399.4" y2="406.1" stroke="#000" stroke-width="0.6"/>
<text x="395.5" y="409.3" font-size="7.95" font-family="Liberation Serif, serif" text-anchor="end" style="fill:#1e1e1e;stroke:#1e1e1e;stroke-width:0.18">20.0</text>
<line x1="397.4" y1="386.7" x2="399.4" y2="386.7" stroke="#000" stroke-width="0.6"/>
<text x="395.5" y="389.9" font-size="7.95" font-family="Liberation Serif, serif" text-anchor="end" style="fill:#1e1e1e;stroke:#1e1e1e;stroke-width:0.18">22.5</text>
<line x1="397.4" y1="367.3" x2="399.4" y2="367.3" stroke="#000" stroke-width="0.6"/>
<text x="395.5" y="370.5" font-size="7.95" font-family="Liberation Serif, serif" text-anchor="end" style="fill:#1e1e1e;stroke:#1e1e1e;stroke-width:0.18">25.0</text>
<line x1="397.4" y1="347.9" x2="399.4" y2="347.9" stroke="#000" stroke-width="0.6"/>
<text x="395.5" y="351.1" font-size="7.95" font-family="Liberation Serif, serif" text-anchor="end" style="fill:#1e1e1e;stroke:#1e1e1e;stroke-width:0.18">27.5</text>
<line x1="397.4" y1="328.5" x2="399.4" y2="328.5" stroke="#000" stroke-width="0.6"/>
<text x="395.5" y="331.7" font-size="7.95" font-family="Liberation Serif, serif" text-anchor="end" style="fill:#1e1e1e;stroke:#1e1e1e;stroke-width:0.18">30.0</text>
<line x1="397.4" y1="309.1" x2="399.4" y2="309.1" stroke="#000" stroke-width="0.6"/>
<text x="395.5" y="312.3" font-size="7.95" font-family="Liberation Serif, serif" text-anchor="end" style="fill:#1e1e1e;stroke:#1e1e1e;stroke-width:0.18">32.5</text>
<line x1="397.4" y1="289.7" x2="399.4" y2="289.7" stroke="#000" stroke-width="0.6"/>
<text x="395.5" y="292.9" font-size="7.95" font-family="Liberation Serif, serif" text-anchor="end" style="fill:#1e1e1e;stroke:#1e1e1e;stroke-width:0.18">35.0</text>
<line x1="397.4" y1="270.3" x2="399.4" y2="270.3" stroke="#000" stroke-width="0.6"/>
<text x="395.5" y="273.5" font-size="7.95" font-family="Liberation Serif, serif" text-anchor="end" style="fill:#1e1e1e;stroke:#1e1e1e;stroke-width:0.18">37.5</text>
<rect x="399.4" y="252.4" width="284.9" height="169.8" fill="none" stroke="#000" stroke-width="0.7"/>
<text x="450.2" y="249.7" font-size="9.4" font-family="Liberation Serif, serif" textLength="183.4" lengthAdjust="spacingAndGlyphs">Density vs. Iterations via Simulated Annealing</text>
<text x="541.85" y="441.1" font-size="8.2" font-family="Liberation Serif, serif" text-anchor="middle" textLength="33" lengthAdjust="spacingAndGlyphs">Iterations</text>
<text transform="translate(378.2,337.3) rotate(-90)" font-size="8.2" font-family="Liberation Serif, serif" text-anchor="middle" textLength="43.6" lengthAdjust="spacingAndGlyphs">Max-density</text>
<text x="537.5" y="463" font-size="11.7" font-family="Liberation Sans, sans-serif" text-anchor="middle" style="fill:#000">(d)</text>
<rect x="32.4" y="13.8" width="107.4" height="48.1" rx="1.5" fill="#fff" fill-opacity="0.8" stroke="#ddd" stroke-width="0.6"/>
<line x1="35.9" y1="19.9" x2="53" y2="19.9" stroke="#1f77b4" stroke-width="1.1" stroke-opacity="0.75"/>
<text x="59.2" y="23" font-size="8.3" font-family="Liberation Serif, serif" textLength="9.9" lengthAdjust="spacingAndGlyphs" style="fill:#1e1e1e;stroke:#1e1e1e;stroke-width:0.18">RS</text>
<line x1="35.9" y1="31.3" x2="53" y2="31.3" stroke="#ff7f0e" stroke-width="1.1" stroke-opacity="0.75"/>
<text x="59.2" y="34.4" font-size="8.3" font-family="Liberation Serif, serif" textLength="41.1" lengthAdjust="spacingAndGlyphs" style="fill:#1e1e1e;stroke:#1e1e1e;stroke-width:0.18">Glauber-RS</text>
<line x1="35.9" y1="42.5" x2="53" y2="42.5" stroke="#2ca02c" stroke-width="1.1" stroke-opacity="0.75"/>
<text x="59.2" y="45.6" font-size="8.3" font-family="Liberation Serif, serif" textLength="68.3" lengthAdjust="spacingAndGlyphs" style="fill:#1e1e1e;stroke:#1e1e1e;stroke-width:0.18">Jerrum-Glauber-RS</text>
<line x1="35.9" y1="54" x2="53" y2="54" stroke="#9467bd" stroke-width="1.1" stroke-opacity="0.75"/>
<text x="59.2" y="57.1" font-size="8.3" font-family="Liberation Serif, serif" textLength="76.5" lengthAdjust="spacingAndGlyphs" style="fill:#1e1e1e;stroke:#1e1e1e;stroke-width:0.18">Quantum-Inspired-RS</text>
<rect x="403.5" y="13.8" width="106.7" height="47.5" rx="1.5" fill="#fff" fill-opacity="0.8" stroke="#ddd" stroke-width="0.6"/>
<line x1="406.6" y1="20" x2="423.5" y2="20" stroke="#1f77b4" stroke-width="1.1" stroke-opacity="0.75"/>
<text x="430" y="23.1" font-size="8.3" font-family="Liberation Serif, serif" textLength="10.1" lengthAdjust="spacingAndGlyphs" style="fill:#1e1e1e;stroke:#1e1e1e;stroke-width:0.18">SA</text>
<line x1="406.6" y1="31.3" x2="423.5" y2="31.3" stroke="#ff7f0e" stroke-width="1.1" stroke-opacity="0.75"/>
<text x="430" y="34.4" font-size="8.3" font-family="Liberation Serif, serif" textLength="41.3" lengthAdjust="spacingAndGlyphs" style="fill:#1e1e1e;stroke:#1e1e1e;stroke-width:0.18">Glauber-SA</text>
<line x1="406.6" y1="42.5" x2="423.5" y2="42.5" stroke="#2ca02c" stroke-width="1.1" stroke-opacity="0.75"/>
<text x="430" y="45.6" font-size="8.3" font-family="Liberation Serif, serif" textLength="68.4" lengthAdjust="spacingAndGlyphs" style="fill:#1e1e1e;stroke:#1e1e1e;stroke-width:0.18">Jerrum-Glauber-SA</text>
<line x1="406.6" y1="54.1" x2="423.5" y2="54.1" stroke="#9467bd" stroke-width="1.1" stroke-opacity="0.75"/>
<text x="430" y="57.2" font-size="8.3" font-family="Liberation Serif, serif" textLength="76.2" lengthAdjust="spacingAndGlyphs" style="fill:#1e1e1e;stroke:#1e1e1e;stroke-width:0.18">Quantum-Inspired-SA</text>
<rect x="211.8" y="381.5" width="97.9" height="36.8" rx="1.5" fill="#fff" fill-opacity="0.8" stroke="#ddd" stroke-width="0.6"/>
<line x1="214.4" y1="387.6" x2="231.9" y2="387.6" stroke="#1f77b4" stroke-width="1.1" stroke-opacity="0.75"/>
<text x="238" y="390.7" font-size="8.3" font-family="Liberation Serif, serif" textLength="9.9" lengthAdjust="spacingAndGlyphs" style="fill:#1e1e1e;stroke:#1e1e1e;stroke-width:0.18">RS</text>
<line x1="214.4" y1="399" x2="231.9" y2="399" stroke="#ff7f0e" stroke-width="1.1" stroke-opacity="0.75"/>
<text x="238" y="402.1" font-size="8.3" font-family="Liberation Serif, serif" textLength="41.1" lengthAdjust="spacingAndGlyphs" style="fill:#1e1e1e;stroke:#1e1e1e;stroke-width:0.18">Glauber-RS</text>
<line x1="214.4" y1="410.4" x2="231.9" y2="410.4" stroke="#2ca02c" stroke-width="1.1" stroke-opacity="0.75"/>
<text x="238" y="413.5" font-size="8.3" font-family="Liberation Serif, serif" textLength="68.3" lengthAdjust="spacingAndGlyphs" style="fill:#1e1e1e;stroke:#1e1e1e;stroke-width:0.18">Jerrum-Glauber-RS</text>
<rect x="582.3" y="381.4" width="98.2" height="37.1" rx="1.5" fill="#fff" fill-opacity="0.8" stroke="#ddd" stroke-width="0.6"/>
<line x1="585" y1="387.7" x2="602.2" y2="387.7" stroke="#1f77b4" stroke-width="1.1" stroke-opacity="0.75"/>
<text x="608.5" y="390.8" font-size="8.3" font-family="Liberation Serif, serif" textLength="10.1" lengthAdjust="spacingAndGlyphs" style="fill:#1e1e1e;stroke:#1e1e1e;stroke-width:0.18">SA</text>
<line x1="585" y1="399.1" x2="602.2" y2="399.1" stroke="#ff7f0e" stroke-width="1.1" stroke-opacity="0.75"/>
<text x="608.5" y="402.2" font-size="8.3" font-family="Liberation Serif, serif" textLength="41.3" lengthAdjust="spacingAndGlyphs" style="fill:#1e1e1e;stroke:#1e1e1e;stroke-width:0.18">Glauber-SA</text>
<line x1="585" y1="410.4" x2="602.2" y2="410.4" stroke="#2ca02c" stroke-width="1.1" stroke-opacity="0.75"/>
<text x="608.5" y="413.5" font-size="8.3" font-family="Liberation Serif, serif" textLength="68.4" lengthAdjust="spacingAndGlyphs" style="fill:#1e1e1e;stroke:#1e1e1e;stroke-width:0.18">Jerrum-Glauber-SA</text>
</svg></body></html>
